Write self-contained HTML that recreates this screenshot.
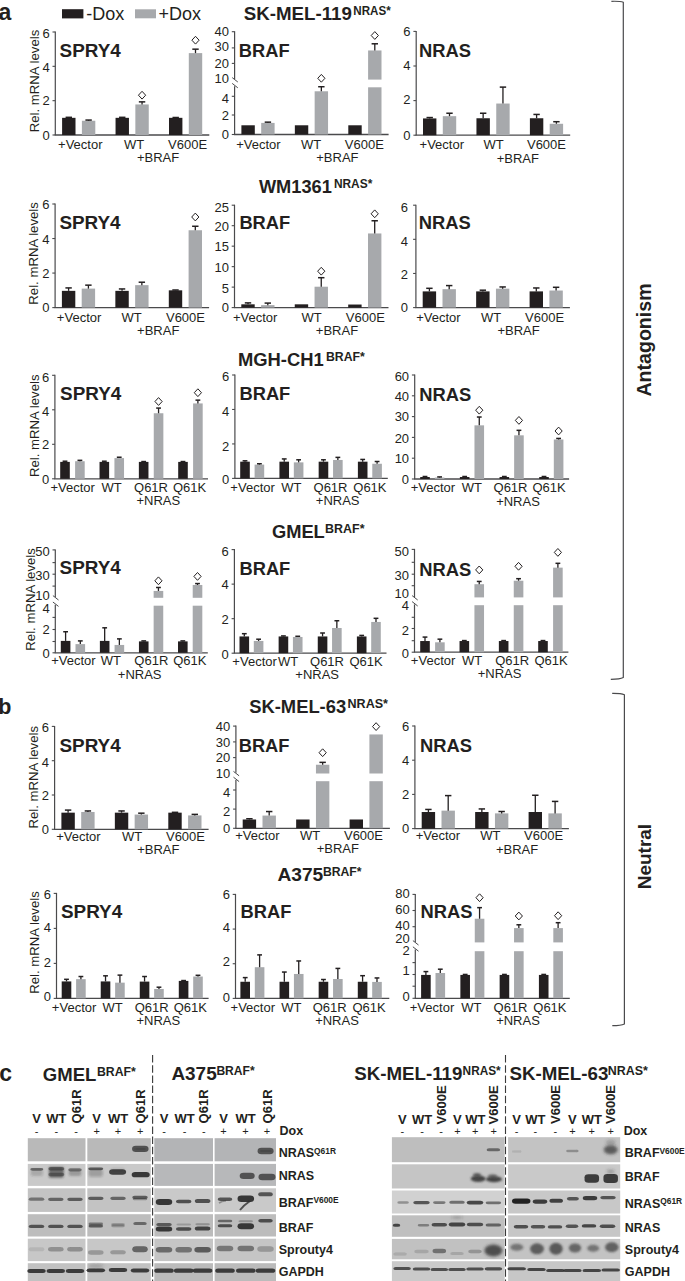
<!DOCTYPE html><html><head><meta charset="utf-8"><style>html,body{margin:0;padding:0;background:#fff;}svg{display:block;}text{font-family:"Liberation Sans",sans-serif;}</style></head><body>
<svg width="685" height="1281" viewBox="0 0 685 1281">
<defs><filter id="bl" x="-50%" y="-100%" width="200%" height="300%"><feGaussianBlur stdDeviation="0.75"/></filter><filter id="bl15" x="-50%" y="-100%" width="200%" height="300%"><feGaussianBlur stdDeviation="1.15"/></filter><filter id="bl2" x="-50%" y="-100%" width="200%" height="300%"><feGaussianBlur stdDeviation="1.6"/></filter></defs>
<rect width="685" height="1281" fill="#fff"/>
<text x="-1.40" y="20.00" font-size="23" font-weight="bold" text-anchor="start" fill="#231f20" >a</text>
<text x="-1.80" y="714.00" font-size="21.5" font-weight="bold" text-anchor="start" fill="#231f20" >b</text>
<text x="-0.80" y="1081.30" font-size="23" font-weight="bold" text-anchor="start" fill="#231f20" >c</text>
<rect x="62.00" y="9.20" width="21.40" height="9.20" fill="#231f20"/>
<text x="86.30" y="19.70" font-size="18" font-weight="normal" text-anchor="start" fill="#231f20" >-Dox</text>
<rect x="135.00" y="9.30" width="21.00" height="9.00" fill="#a7a9ac"/>
<text x="158.60" y="19.70" font-size="18" font-weight="normal" text-anchor="start" fill="#231f20" >+Dox</text>
<text x="243.70" y="19.60" font-size="18" font-weight="bold" fill="#231f20" textLength="108.20" lengthAdjust="spacingAndGlyphs">SK-MEL-119</text>
<text x="353.30" y="14.60" font-size="12" font-weight="bold" fill="#231f20" textLength="37.40" lengthAdjust="spacingAndGlyphs">NRAS*</text>
<text x="258.90" y="193.00" font-size="18" font-weight="bold" fill="#231f20" textLength="72.90" lengthAdjust="spacingAndGlyphs">WM1361</text>
<text x="333.90" y="188.00" font-size="12" font-weight="bold" fill="#231f20" textLength="38.40" lengthAdjust="spacingAndGlyphs">NRAS*</text>
<text x="237.90" y="366.20" font-size="18" font-weight="bold" fill="#231f20" textLength="85.80" lengthAdjust="spacingAndGlyphs">MGH-CH1</text>
<text x="325.90" y="361.20" font-size="12" font-weight="bold" fill="#231f20" textLength="38.90" lengthAdjust="spacingAndGlyphs">BRAF*</text>
<text x="271.90" y="537.90" font-size="18" font-weight="bold" fill="#231f20" textLength="52.90" lengthAdjust="spacingAndGlyphs">GMEL</text>
<text x="325.10" y="532.90" font-size="12" font-weight="bold" fill="#231f20" textLength="39.40" lengthAdjust="spacingAndGlyphs">BRAF*</text>
<text x="249.20" y="713.20" font-size="18" font-weight="bold" fill="#231f20" textLength="97.00" lengthAdjust="spacingAndGlyphs">SK-MEL-63</text>
<text x="347.50" y="708.20" font-size="12" font-weight="bold" fill="#231f20" textLength="40.50" lengthAdjust="spacingAndGlyphs">NRAS*</text>
<text x="277.40" y="881.40" font-size="18" font-weight="bold" fill="#231f20" textLength="45.80" lengthAdjust="spacingAndGlyphs">A375</text>
<text x="322.90" y="876.40" font-size="12" font-weight="bold" fill="#231f20" textLength="38.70" lengthAdjust="spacingAndGlyphs">BRAF*</text>
<line x1="55.30" y1="31.50" x2="55.30" y2="135.00" stroke="#4a4a4c" stroke-width="1.2" />
<line x1="54.70" y1="135.00" x2="209.30" y2="135.00" stroke="#4a4a4c" stroke-width="1.3" />
<line x1="52.50" y1="135.00" x2="55.30" y2="135.00" stroke="#4a4a4c" stroke-width="1.1" />
<text x="49.70" y="140.40" font-size="13" font-weight="normal" text-anchor="end" fill="#231f20" >0</text>
<line x1="52.50" y1="100.67" x2="55.30" y2="100.67" stroke="#4a4a4c" stroke-width="1.1" />
<text x="49.70" y="105.35" font-size="13" font-weight="normal" text-anchor="end" fill="#231f20" >2</text>
<line x1="52.50" y1="66.33" x2="55.30" y2="66.33" stroke="#4a4a4c" stroke-width="1.1" />
<text x="49.70" y="71.95" font-size="13" font-weight="normal" text-anchor="end" fill="#231f20" >4</text>
<line x1="52.50" y1="32.00" x2="55.30" y2="32.00" stroke="#4a4a4c" stroke-width="1.1" />
<text x="49.70" y="37.55" font-size="13" font-weight="normal" text-anchor="end" fill="#231f20" >6</text>
<rect x="62.10" y="117.83" width="13.40" height="17.17" fill="#231f20"/>
<line x1="68.80" y1="117.83" x2="68.80" y2="117.32" stroke="#231f20" stroke-width="1.3" />
<line x1="65.60" y1="117.32" x2="72.00" y2="117.32" stroke="#231f20" stroke-width="1.5" />
<rect x="81.90" y="120.75" width="13.40" height="14.25" fill="#a7a9ac"/>
<line x1="88.60" y1="120.75" x2="88.60" y2="120.06" stroke="#231f20" stroke-width="1.3" />
<line x1="85.40" y1="120.06" x2="91.80" y2="120.06" stroke="#231f20" stroke-width="1.5" />
<rect x="115.55" y="117.83" width="13.40" height="17.17" fill="#231f20"/>
<line x1="122.25" y1="117.83" x2="122.25" y2="117.32" stroke="#231f20" stroke-width="1.3" />
<line x1="119.05" y1="117.32" x2="125.45" y2="117.32" stroke="#231f20" stroke-width="1.5" />
<rect x="135.35" y="104.44" width="13.40" height="30.56" fill="#a7a9ac"/>
<line x1="142.05" y1="104.44" x2="142.05" y2="101.87" stroke="#231f20" stroke-width="1.3" />
<line x1="138.85" y1="101.87" x2="145.25" y2="101.87" stroke="#231f20" stroke-width="1.5" />
<path d="M142.05 91.30 L145.65 95.20 L142.05 99.10 L138.45 95.20 Z" fill="none" stroke="#231f20" stroke-width="1"/>
<rect x="169.00" y="117.83" width="13.40" height="17.17" fill="#231f20"/>
<line x1="175.70" y1="117.83" x2="175.70" y2="117.49" stroke="#231f20" stroke-width="1.3" />
<line x1="172.50" y1="117.49" x2="178.90" y2="117.49" stroke="#231f20" stroke-width="1.5" />
<rect x="188.80" y="53.11" width="13.40" height="81.89" fill="#a7a9ac"/>
<line x1="195.50" y1="53.11" x2="195.50" y2="49.17" stroke="#231f20" stroke-width="1.3" />
<line x1="192.30" y1="49.17" x2="198.70" y2="49.17" stroke="#231f20" stroke-width="1.5" />
<path d="M195.50 36.30 L199.10 40.20 L195.50 44.10 L191.90 40.20 Z" fill="none" stroke="#231f20" stroke-width="1"/>
<text x="59.60" y="57.00" font-size="18" font-weight="bold" fill="#231f20" textLength="61.2" lengthAdjust="spacingAndGlyphs">SPRY4</text>
<text x="80.30" y="149.00" font-size="13" font-weight="normal" text-anchor="middle" fill="#231f20" >+Vector</text>
<text x="134.20" y="149.00" font-size="13" font-weight="normal" text-anchor="middle" fill="#231f20" >WT</text>
<text x="187.60" y="149.00" font-size="13" font-weight="normal" text-anchor="middle" fill="#231f20" >V600E</text>
<text x="158.10" y="162.30" font-size="13" font-weight="normal" text-anchor="middle" fill="#231f20" >+BRAF</text>
<text transform="translate(38.80 81.00) rotate(-90)" font-size="13.2" text-anchor="middle" fill="#231f20">Rel. mRNA levels</text>
<line x1="234.60" y1="31.20" x2="234.60" y2="79.00" stroke="#4a4a4c" stroke-width="1.2" />
<line x1="234.60" y1="86.20" x2="234.60" y2="134.50" stroke="#4a4a4c" stroke-width="1.2" />
<line x1="232.20" y1="77.60" x2="237.80" y2="82.00" stroke="#4a4a4c" stroke-width="1.0" />
<line x1="232.20" y1="83.40" x2="237.80" y2="87.80" stroke="#4a4a4c" stroke-width="1.0" />
<line x1="234.00" y1="134.50" x2="388.60" y2="134.50" stroke="#4a4a4c" stroke-width="1.3" />
<line x1="231.80" y1="134.50" x2="234.60" y2="134.50" stroke="#4a4a4c" stroke-width="1.1" />
<text x="229.00" y="139.15" font-size="13" font-weight="normal" text-anchor="end" fill="#231f20" >0</text>
<line x1="231.80" y1="115.00" x2="234.60" y2="115.00" stroke="#4a4a4c" stroke-width="1.1" />
<text x="229.00" y="120.05" font-size="13" font-weight="normal" text-anchor="end" fill="#231f20" >2</text>
<line x1="231.80" y1="96.30" x2="234.60" y2="96.30" stroke="#4a4a4c" stroke-width="1.1" />
<text x="229.00" y="102.55" font-size="13" font-weight="normal" text-anchor="end" fill="#231f20" >4</text>
<text x="229.00" y="83.15" font-size="13" font-weight="normal" text-anchor="end" fill="#231f20" >10</text>
<line x1="231.80" y1="63.40" x2="234.60" y2="63.40" stroke="#4a4a4c" stroke-width="1.1" />
<text x="229.00" y="67.75" font-size="13" font-weight="normal" text-anchor="end" fill="#231f20" >20</text>
<line x1="231.80" y1="47.90" x2="234.60" y2="47.90" stroke="#4a4a4c" stroke-width="1.1" />
<text x="229.00" y="50.95" font-size="13" font-weight="normal" text-anchor="end" fill="#231f20" >30</text>
<line x1="231.80" y1="31.70" x2="234.60" y2="31.70" stroke="#4a4a4c" stroke-width="1.1" />
<text x="229.00" y="35.55" font-size="13" font-weight="normal" text-anchor="end" fill="#231f20" >40</text>
<rect x="241.40" y="125.28" width="13.40" height="9.22" fill="#231f20"/>
<rect x="261.20" y="122.91" width="13.40" height="11.59" fill="#a7a9ac"/>
<line x1="267.90" y1="122.91" x2="267.90" y2="122.15" stroke="#231f20" stroke-width="1.3" />
<line x1="264.70" y1="122.15" x2="271.10" y2="122.15" stroke="#231f20" stroke-width="1.5" />
<rect x="294.85" y="125.28" width="13.40" height="9.22" fill="#231f20"/>
<rect x="314.65" y="91.28" width="13.40" height="43.22" fill="#a7a9ac"/>
<line x1="321.35" y1="91.28" x2="321.35" y2="86.72" stroke="#231f20" stroke-width="1.3" />
<line x1="318.15" y1="86.72" x2="324.55" y2="86.72" stroke="#231f20" stroke-width="1.5" />
<path d="M321.35 74.40 L324.95 78.30 L321.35 82.20 L317.75 78.30 Z" fill="none" stroke="#231f20" stroke-width="1"/>
<rect x="348.30" y="125.28" width="13.40" height="9.22" fill="#231f20"/>
<rect x="368.10" y="50.46" width="13.40" height="29.14" fill="#a7a9ac"/>
<rect x="368.10" y="87.30" width="13.40" height="47.20" fill="#a7a9ac"/>
<line x1="374.80" y1="50.46" x2="374.80" y2="43.79" stroke="#231f20" stroke-width="1.3" />
<line x1="371.60" y1="43.79" x2="378.00" y2="43.79" stroke="#231f20" stroke-width="1.5" />
<path d="M374.80 31.60 L378.40 35.50 L374.80 39.40 L371.20 35.50 Z" fill="none" stroke="#231f20" stroke-width="1"/>
<text x="238.80" y="57.20" font-size="18" font-weight="bold" fill="#231f20" textLength="50.8" lengthAdjust="spacingAndGlyphs">BRAF</text>
<text x="258.40" y="148.50" font-size="13" font-weight="normal" text-anchor="middle" fill="#231f20" >+Vector</text>
<text x="311.00" y="148.50" font-size="13" font-weight="normal" text-anchor="middle" fill="#231f20" >WT</text>
<text x="364.30" y="148.50" font-size="13" font-weight="normal" text-anchor="middle" fill="#231f20" >V600E</text>
<text x="337.40" y="161.80" font-size="13" font-weight="normal" text-anchor="middle" fill="#231f20" >+BRAF</text>
<line x1="416.20" y1="30.90" x2="416.20" y2="135.20" stroke="#4a4a4c" stroke-width="1.2" />
<line x1="415.60" y1="135.20" x2="570.20" y2="135.20" stroke="#4a4a4c" stroke-width="1.3" />
<line x1="413.40" y1="135.20" x2="416.20" y2="135.20" stroke="#4a4a4c" stroke-width="1.1" />
<text x="410.60" y="139.55" font-size="13" font-weight="normal" text-anchor="end" fill="#231f20" >0</text>
<line x1="413.40" y1="100.60" x2="416.20" y2="100.60" stroke="#4a4a4c" stroke-width="1.1" />
<text x="410.60" y="104.25" font-size="13" font-weight="normal" text-anchor="end" fill="#231f20" >2</text>
<line x1="413.40" y1="66.00" x2="416.20" y2="66.00" stroke="#4a4a4c" stroke-width="1.1" />
<text x="410.60" y="69.85" font-size="13" font-weight="normal" text-anchor="end" fill="#231f20" >4</text>
<line x1="413.40" y1="31.40" x2="416.20" y2="31.40" stroke="#4a4a4c" stroke-width="1.1" />
<text x="410.60" y="35.85" font-size="13" font-weight="normal" text-anchor="end" fill="#231f20" >6</text>
<rect x="423.00" y="118.42" width="13.40" height="16.78" fill="#231f20"/>
<line x1="429.70" y1="118.42" x2="429.70" y2="117.55" stroke="#231f20" stroke-width="1.3" />
<line x1="426.50" y1="117.55" x2="432.90" y2="117.55" stroke="#231f20" stroke-width="1.5" />
<rect x="442.80" y="116.17" width="13.40" height="19.03" fill="#a7a9ac"/>
<line x1="449.50" y1="116.17" x2="449.50" y2="113.23" stroke="#231f20" stroke-width="1.3" />
<line x1="446.30" y1="113.23" x2="452.70" y2="113.23" stroke="#231f20" stroke-width="1.5" />
<rect x="476.45" y="118.25" width="13.40" height="16.95" fill="#231f20"/>
<line x1="483.15" y1="118.25" x2="483.15" y2="113.23" stroke="#231f20" stroke-width="1.3" />
<line x1="479.95" y1="113.23" x2="486.35" y2="113.23" stroke="#231f20" stroke-width="1.5" />
<rect x="496.25" y="103.54" width="13.40" height="31.66" fill="#a7a9ac"/>
<line x1="502.95" y1="103.54" x2="502.95" y2="87.11" stroke="#231f20" stroke-width="1.3" />
<line x1="499.75" y1="87.11" x2="506.15" y2="87.11" stroke="#231f20" stroke-width="1.5" />
<rect x="529.90" y="118.25" width="13.40" height="16.95" fill="#231f20"/>
<line x1="536.60" y1="118.25" x2="536.60" y2="114.44" stroke="#231f20" stroke-width="1.3" />
<line x1="533.40" y1="114.44" x2="539.80" y2="114.44" stroke="#231f20" stroke-width="1.5" />
<rect x="549.70" y="123.78" width="13.40" height="11.42" fill="#a7a9ac"/>
<line x1="556.40" y1="123.78" x2="556.40" y2="121.71" stroke="#231f20" stroke-width="1.3" />
<line x1="553.20" y1="121.71" x2="559.60" y2="121.71" stroke="#231f20" stroke-width="1.5" />
<text x="419.00" y="56.70" font-size="18" font-weight="bold" fill="#231f20" textLength="52.0" lengthAdjust="spacingAndGlyphs">NRAS</text>
<text x="441.80" y="149.20" font-size="13" font-weight="normal" text-anchor="middle" fill="#231f20" >+Vector</text>
<text x="493.70" y="149.20" font-size="13" font-weight="normal" text-anchor="middle" fill="#231f20" >WT</text>
<text x="546.50" y="149.20" font-size="13" font-weight="normal" text-anchor="middle" fill="#231f20" >V600E</text>
<text x="517.80" y="162.50" font-size="13" font-weight="normal" text-anchor="middle" fill="#231f20" >+BRAF</text>
<line x1="55.10" y1="203.50" x2="55.10" y2="307.60" stroke="#4a4a4c" stroke-width="1.2" />
<line x1="54.50" y1="307.60" x2="209.10" y2="307.60" stroke="#4a4a4c" stroke-width="1.3" />
<line x1="52.30" y1="307.60" x2="55.10" y2="307.60" stroke="#4a4a4c" stroke-width="1.1" />
<text x="49.50" y="312.25" font-size="13" font-weight="normal" text-anchor="end" fill="#231f20" >0</text>
<line x1="52.30" y1="273.07" x2="55.10" y2="273.07" stroke="#4a4a4c" stroke-width="1.1" />
<text x="49.50" y="278.25" font-size="13" font-weight="normal" text-anchor="end" fill="#231f20" >2</text>
<line x1="52.30" y1="238.53" x2="55.10" y2="238.53" stroke="#4a4a4c" stroke-width="1.1" />
<text x="49.50" y="244.15" font-size="13" font-weight="normal" text-anchor="end" fill="#231f20" >4</text>
<line x1="52.30" y1="204.00" x2="55.10" y2="204.00" stroke="#4a4a4c" stroke-width="1.1" />
<text x="49.50" y="209.25" font-size="13" font-weight="normal" text-anchor="end" fill="#231f20" >6</text>
<rect x="61.90" y="290.85" width="13.40" height="16.75" fill="#231f20"/>
<line x1="68.60" y1="290.85" x2="68.60" y2="287.92" stroke="#231f20" stroke-width="1.3" />
<line x1="65.40" y1="287.92" x2="71.80" y2="287.92" stroke="#231f20" stroke-width="1.5" />
<rect x="81.70" y="288.61" width="13.40" height="18.99" fill="#a7a9ac"/>
<line x1="88.40" y1="288.61" x2="88.40" y2="285.15" stroke="#231f20" stroke-width="1.3" />
<line x1="85.20" y1="285.15" x2="91.60" y2="285.15" stroke="#231f20" stroke-width="1.5" />
<rect x="115.35" y="290.85" width="13.40" height="16.75" fill="#231f20"/>
<line x1="122.05" y1="290.85" x2="122.05" y2="288.95" stroke="#231f20" stroke-width="1.3" />
<line x1="118.85" y1="288.95" x2="125.25" y2="288.95" stroke="#231f20" stroke-width="1.5" />
<rect x="135.15" y="285.15" width="13.40" height="22.45" fill="#a7a9ac"/>
<line x1="141.85" y1="285.15" x2="141.85" y2="282.22" stroke="#231f20" stroke-width="1.3" />
<line x1="138.65" y1="282.22" x2="145.05" y2="282.22" stroke="#231f20" stroke-width="1.5" />
<rect x="168.80" y="290.33" width="13.40" height="17.27" fill="#231f20"/>
<line x1="175.50" y1="290.33" x2="175.50" y2="289.99" stroke="#231f20" stroke-width="1.3" />
<line x1="172.30" y1="289.99" x2="178.70" y2="289.99" stroke="#231f20" stroke-width="1.5" />
<rect x="188.60" y="230.25" width="13.40" height="77.35" fill="#a7a9ac"/>
<line x1="195.30" y1="230.25" x2="195.30" y2="226.27" stroke="#231f20" stroke-width="1.3" />
<line x1="192.10" y1="226.27" x2="198.50" y2="226.27" stroke="#231f20" stroke-width="1.5" />
<path d="M195.30 213.10 L198.90 217.00 L195.30 220.90 L191.70 217.00 Z" fill="none" stroke="#231f20" stroke-width="1"/>
<text x="59.40" y="228.80" font-size="18" font-weight="bold" fill="#231f20" textLength="61.2" lengthAdjust="spacingAndGlyphs">SPRY4</text>
<text x="79.10" y="321.60" font-size="13" font-weight="normal" text-anchor="middle" fill="#231f20" >+Vector</text>
<text x="131.70" y="321.60" font-size="13" font-weight="normal" text-anchor="middle" fill="#231f20" >WT</text>
<text x="185.50" y="321.60" font-size="13" font-weight="normal" text-anchor="middle" fill="#231f20" >V600E</text>
<text x="158.20" y="334.90" font-size="13" font-weight="normal" text-anchor="middle" fill="#231f20" >+BRAF</text>
<text transform="translate(37.60 253.40) rotate(-90)" font-size="13.2" text-anchor="middle" fill="#231f20">Rel. mRNA levels</text>
<line x1="234.50" y1="204.70" x2="234.50" y2="307.60" stroke="#4a4a4c" stroke-width="1.2" />
<line x1="233.90" y1="307.60" x2="388.50" y2="307.60" stroke="#4a4a4c" stroke-width="1.3" />
<line x1="231.70" y1="307.60" x2="234.50" y2="307.60" stroke="#4a4a4c" stroke-width="1.1" />
<text x="228.90" y="311.65" font-size="13" font-weight="normal" text-anchor="end" fill="#231f20" >0</text>
<line x1="231.70" y1="287.12" x2="234.50" y2="287.12" stroke="#4a4a4c" stroke-width="1.1" />
<text x="228.90" y="293.35" font-size="13" font-weight="normal" text-anchor="end" fill="#231f20" >5</text>
<line x1="231.70" y1="266.64" x2="234.50" y2="266.64" stroke="#4a4a4c" stroke-width="1.1" />
<text x="228.90" y="272.45" font-size="13" font-weight="normal" text-anchor="end" fill="#231f20" >10</text>
<line x1="231.70" y1="246.16" x2="234.50" y2="246.16" stroke="#4a4a4c" stroke-width="1.1" />
<text x="228.90" y="251.15" font-size="13" font-weight="normal" text-anchor="end" fill="#231f20" >15</text>
<line x1="231.70" y1="225.68" x2="234.50" y2="225.68" stroke="#4a4a4c" stroke-width="1.1" />
<text x="228.90" y="230.75" font-size="13" font-weight="normal" text-anchor="end" fill="#231f20" >20</text>
<line x1="231.70" y1="205.20" x2="234.50" y2="205.20" stroke="#4a4a4c" stroke-width="1.1" />
<text x="228.90" y="212.15" font-size="13" font-weight="normal" text-anchor="end" fill="#231f20" >25</text>
<rect x="241.30" y="304.32" width="13.40" height="3.28" fill="#231f20"/>
<line x1="248.00" y1="304.32" x2="248.00" y2="302.89" stroke="#231f20" stroke-width="1.3" />
<line x1="244.80" y1="302.89" x2="251.20" y2="302.89" stroke="#231f20" stroke-width="1.5" />
<rect x="261.10" y="305.14" width="13.40" height="2.46" fill="#a7a9ac"/>
<line x1="267.80" y1="305.14" x2="267.80" y2="303.09" stroke="#231f20" stroke-width="1.3" />
<line x1="264.60" y1="303.09" x2="271.00" y2="303.09" stroke="#231f20" stroke-width="1.5" />
<rect x="294.75" y="304.32" width="13.40" height="3.28" fill="#231f20"/>
<rect x="314.55" y="286.71" width="13.40" height="20.89" fill="#a7a9ac"/>
<line x1="321.25" y1="286.71" x2="321.25" y2="277.70" stroke="#231f20" stroke-width="1.3" />
<line x1="318.05" y1="277.70" x2="324.45" y2="277.70" stroke="#231f20" stroke-width="1.5" />
<path d="M321.25 267.30 L324.85 271.20 L321.25 275.10 L317.65 271.20 Z" fill="none" stroke="#231f20" stroke-width="1"/>
<rect x="348.20" y="304.53" width="13.40" height="3.07" fill="#231f20"/>
<rect x="368.00" y="233.46" width="13.40" height="74.14" fill="#a7a9ac"/>
<line x1="374.70" y1="233.46" x2="374.70" y2="220.76" stroke="#231f20" stroke-width="1.3" />
<line x1="371.50" y1="220.76" x2="377.90" y2="220.76" stroke="#231f20" stroke-width="1.5" />
<path d="M374.70 209.90 L378.30 213.80 L374.70 217.70 L371.10 213.80 Z" fill="none" stroke="#231f20" stroke-width="1"/>
<text x="239.40" y="228.80" font-size="18" font-weight="bold" fill="#231f20" textLength="50.8" lengthAdjust="spacingAndGlyphs">BRAF</text>
<text x="255.20" y="321.60" font-size="13" font-weight="normal" text-anchor="middle" fill="#231f20" >+Vector</text>
<text x="311.70" y="321.60" font-size="13" font-weight="normal" text-anchor="middle" fill="#231f20" >WT</text>
<text x="365.30" y="321.60" font-size="13" font-weight="normal" text-anchor="middle" fill="#231f20" >V600E</text>
<text x="337.00" y="334.90" font-size="13" font-weight="normal" text-anchor="middle" fill="#231f20" >+BRAF</text>
<line x1="415.90" y1="204.70" x2="415.90" y2="307.60" stroke="#4a4a4c" stroke-width="1.2" />
<line x1="415.30" y1="307.60" x2="569.90" y2="307.60" stroke="#4a4a4c" stroke-width="1.3" />
<line x1="413.10" y1="307.60" x2="415.90" y2="307.60" stroke="#4a4a4c" stroke-width="1.1" />
<text x="408.10" y="312.05" font-size="13" font-weight="normal" text-anchor="end" fill="#231f20" >0</text>
<line x1="413.10" y1="273.47" x2="415.90" y2="273.47" stroke="#4a4a4c" stroke-width="1.1" />
<text x="408.10" y="279.45" font-size="13" font-weight="normal" text-anchor="end" fill="#231f20" >2</text>
<line x1="413.10" y1="239.33" x2="415.90" y2="239.33" stroke="#4a4a4c" stroke-width="1.1" />
<text x="408.10" y="246.25" font-size="13" font-weight="normal" text-anchor="end" fill="#231f20" >4</text>
<line x1="413.10" y1="205.20" x2="415.90" y2="205.20" stroke="#4a4a4c" stroke-width="1.1" />
<text x="408.10" y="211.65" font-size="13" font-weight="normal" text-anchor="end" fill="#231f20" >6</text>
<rect x="422.70" y="291.39" width="13.40" height="16.21" fill="#231f20"/>
<line x1="429.40" y1="291.39" x2="429.40" y2="288.31" stroke="#231f20" stroke-width="1.3" />
<line x1="426.20" y1="288.31" x2="432.60" y2="288.31" stroke="#231f20" stroke-width="1.5" />
<rect x="442.50" y="289.17" width="13.40" height="18.43" fill="#a7a9ac"/>
<line x1="449.20" y1="289.17" x2="449.20" y2="285.58" stroke="#231f20" stroke-width="1.3" />
<line x1="446.00" y1="285.58" x2="452.40" y2="285.58" stroke="#231f20" stroke-width="1.5" />
<rect x="476.15" y="291.39" width="13.40" height="16.21" fill="#231f20"/>
<line x1="482.85" y1="291.39" x2="482.85" y2="290.19" stroke="#231f20" stroke-width="1.3" />
<line x1="479.65" y1="290.19" x2="486.05" y2="290.19" stroke="#231f20" stroke-width="1.5" />
<rect x="495.95" y="288.66" width="13.40" height="18.94" fill="#a7a9ac"/>
<line x1="502.65" y1="288.66" x2="502.65" y2="286.95" stroke="#231f20" stroke-width="1.3" />
<line x1="499.45" y1="286.95" x2="505.85" y2="286.95" stroke="#231f20" stroke-width="1.5" />
<rect x="529.60" y="291.39" width="13.40" height="16.21" fill="#231f20"/>
<line x1="536.30" y1="291.39" x2="536.30" y2="287.97" stroke="#231f20" stroke-width="1.3" />
<line x1="533.10" y1="287.97" x2="539.50" y2="287.97" stroke="#231f20" stroke-width="1.5" />
<rect x="549.40" y="290.53" width="13.40" height="17.07" fill="#a7a9ac"/>
<line x1="556.10" y1="290.53" x2="556.10" y2="287.29" stroke="#231f20" stroke-width="1.3" />
<line x1="552.90" y1="287.29" x2="559.30" y2="287.29" stroke="#231f20" stroke-width="1.5" />
<text x="418.70" y="228.50" font-size="18" font-weight="bold" fill="#231f20" textLength="52.0" lengthAdjust="spacingAndGlyphs">NRAS</text>
<text x="438.40" y="321.60" font-size="13" font-weight="normal" text-anchor="middle" fill="#231f20" >+Vector</text>
<text x="491.00" y="321.60" font-size="13" font-weight="normal" text-anchor="middle" fill="#231f20" >WT</text>
<text x="544.60" y="321.60" font-size="13" font-weight="normal" text-anchor="middle" fill="#231f20" >V600E</text>
<text x="518.60" y="334.90" font-size="13" font-weight="normal" text-anchor="middle" fill="#231f20" >+BRAF</text>
<line x1="54.90" y1="374.80" x2="54.90" y2="478.80" stroke="#4a4a4c" stroke-width="1.2" />
<line x1="54.30" y1="478.80" x2="208.00" y2="478.80" stroke="#4a4a4c" stroke-width="1.3" />
<line x1="52.10" y1="478.80" x2="54.90" y2="478.80" stroke="#4a4a4c" stroke-width="1.1" />
<text x="49.30" y="483.95" font-size="13" font-weight="normal" text-anchor="end" fill="#231f20" >0</text>
<line x1="52.10" y1="444.30" x2="54.90" y2="444.30" stroke="#4a4a4c" stroke-width="1.1" />
<text x="49.30" y="449.15" font-size="13" font-weight="normal" text-anchor="end" fill="#231f20" >2</text>
<line x1="52.10" y1="409.80" x2="54.90" y2="409.80" stroke="#4a4a4c" stroke-width="1.1" />
<text x="49.30" y="415.65" font-size="13" font-weight="normal" text-anchor="end" fill="#231f20" >4</text>
<line x1="52.10" y1="375.30" x2="54.90" y2="375.30" stroke="#4a4a4c" stroke-width="1.1" />
<text x="49.30" y="381.55" font-size="13" font-weight="normal" text-anchor="end" fill="#231f20" >6</text>
<rect x="60.20" y="461.89" width="9.60" height="16.91" fill="#231f20"/>
<line x1="65.00" y1="461.89" x2="65.00" y2="461.21" stroke="#231f20" stroke-width="1.3" />
<line x1="62.60" y1="461.21" x2="67.40" y2="461.21" stroke="#231f20" stroke-width="1.5" />
<rect x="75.10" y="461.21" width="9.60" height="17.59" fill="#a7a9ac"/>
<line x1="79.90" y1="461.21" x2="79.90" y2="460.34" stroke="#231f20" stroke-width="1.3" />
<line x1="77.50" y1="460.34" x2="82.30" y2="460.34" stroke="#231f20" stroke-width="1.5" />
<rect x="99.53" y="461.89" width="9.60" height="16.91" fill="#231f20"/>
<line x1="104.33" y1="461.89" x2="104.33" y2="461.21" stroke="#231f20" stroke-width="1.3" />
<line x1="101.93" y1="461.21" x2="106.73" y2="461.21" stroke="#231f20" stroke-width="1.5" />
<rect x="114.43" y="458.10" width="9.60" height="20.70" fill="#a7a9ac"/>
<line x1="119.23" y1="458.10" x2="119.23" y2="457.24" stroke="#231f20" stroke-width="1.3" />
<line x1="116.83" y1="457.24" x2="121.63" y2="457.24" stroke="#231f20" stroke-width="1.5" />
<rect x="138.86" y="461.89" width="9.60" height="16.91" fill="#231f20"/>
<line x1="143.66" y1="461.89" x2="143.66" y2="461.55" stroke="#231f20" stroke-width="1.3" />
<line x1="141.26" y1="461.55" x2="146.06" y2="461.55" stroke="#231f20" stroke-width="1.5" />
<rect x="153.76" y="413.25" width="9.60" height="65.55" fill="#a7a9ac"/>
<line x1="158.56" y1="413.25" x2="158.56" y2="408.08" stroke="#231f20" stroke-width="1.3" />
<line x1="156.16" y1="408.08" x2="160.96" y2="408.08" stroke="#231f20" stroke-width="1.5" />
<path d="M158.56 397.60 L162.16 401.50 L158.56 405.40 L154.96 401.50 Z" fill="none" stroke="#231f20" stroke-width="1"/>
<rect x="178.19" y="461.89" width="9.60" height="16.91" fill="#231f20"/>
<line x1="182.99" y1="461.89" x2="182.99" y2="461.55" stroke="#231f20" stroke-width="1.3" />
<line x1="180.59" y1="461.55" x2="185.39" y2="461.55" stroke="#231f20" stroke-width="1.5" />
<rect x="193.09" y="403.42" width="9.60" height="75.38" fill="#a7a9ac"/>
<line x1="197.89" y1="403.42" x2="197.89" y2="400.14" stroke="#231f20" stroke-width="1.3" />
<line x1="195.49" y1="400.14" x2="200.29" y2="400.14" stroke="#231f20" stroke-width="1.5" />
<path d="M197.89 388.80 L201.49 392.70 L197.89 396.60 L194.29 392.70 Z" fill="none" stroke="#231f20" stroke-width="1"/>
<text x="60.10" y="400.40" font-size="18" font-weight="bold" fill="#231f20" textLength="61.2" lengthAdjust="spacingAndGlyphs">SPRY4</text>
<text x="72.70" y="492.10" font-size="13" font-weight="normal" text-anchor="middle" fill="#231f20" >+Vector</text>
<text x="111.60" y="492.10" font-size="13" font-weight="normal" text-anchor="middle" fill="#231f20" >WT</text>
<text x="151.00" y="492.10" font-size="13" font-weight="normal" text-anchor="middle" fill="#231f20" >Q61R</text>
<text x="189.50" y="492.10" font-size="13" font-weight="normal" text-anchor="middle" fill="#231f20" >Q61K</text>
<text x="158.30" y="505.40" font-size="13" font-weight="normal" text-anchor="middle" fill="#231f20" >+NRAS</text>
<text transform="translate(38.70 425.80) rotate(-90)" font-size="13.2" text-anchor="middle" fill="#231f20">Rel. mRNA levels</text>
<line x1="234.90" y1="374.50" x2="234.90" y2="478.40" stroke="#4a4a4c" stroke-width="1.2" />
<line x1="234.30" y1="478.40" x2="387.80" y2="478.40" stroke="#4a4a4c" stroke-width="1.3" />
<line x1="232.10" y1="478.40" x2="234.90" y2="478.40" stroke="#4a4a4c" stroke-width="1.1" />
<text x="229.30" y="483.55" font-size="13" font-weight="normal" text-anchor="end" fill="#231f20" >0</text>
<line x1="232.10" y1="443.93" x2="234.90" y2="443.93" stroke="#4a4a4c" stroke-width="1.1" />
<text x="229.30" y="450.75" font-size="13" font-weight="normal" text-anchor="end" fill="#231f20" >2</text>
<line x1="232.10" y1="409.47" x2="234.90" y2="409.47" stroke="#4a4a4c" stroke-width="1.1" />
<text x="229.30" y="416.45" font-size="13" font-weight="normal" text-anchor="end" fill="#231f20" >4</text>
<line x1="232.10" y1="375.00" x2="234.90" y2="375.00" stroke="#4a4a4c" stroke-width="1.1" />
<text x="229.30" y="381.25" font-size="13" font-weight="normal" text-anchor="end" fill="#231f20" >6</text>
<rect x="240.20" y="461.68" width="9.60" height="16.72" fill="#231f20"/>
<line x1="245.00" y1="461.68" x2="245.00" y2="460.82" stroke="#231f20" stroke-width="1.3" />
<line x1="242.60" y1="460.82" x2="247.40" y2="460.82" stroke="#231f20" stroke-width="1.5" />
<rect x="254.60" y="464.61" width="9.60" height="13.79" fill="#a7a9ac"/>
<line x1="259.40" y1="464.61" x2="259.40" y2="463.75" stroke="#231f20" stroke-width="1.3" />
<line x1="257.00" y1="463.75" x2="261.80" y2="463.75" stroke="#231f20" stroke-width="1.5" />
<rect x="279.43" y="461.68" width="9.60" height="16.72" fill="#231f20"/>
<line x1="284.23" y1="461.68" x2="284.23" y2="458.93" stroke="#231f20" stroke-width="1.3" />
<line x1="281.83" y1="458.93" x2="286.63" y2="458.93" stroke="#231f20" stroke-width="1.5" />
<rect x="293.83" y="462.37" width="9.60" height="16.03" fill="#a7a9ac"/>
<line x1="298.63" y1="462.37" x2="298.63" y2="459.79" stroke="#231f20" stroke-width="1.3" />
<line x1="296.23" y1="459.79" x2="301.03" y2="459.79" stroke="#231f20" stroke-width="1.5" />
<rect x="318.66" y="461.68" width="9.60" height="16.72" fill="#231f20"/>
<line x1="323.46" y1="461.68" x2="323.46" y2="459.79" stroke="#231f20" stroke-width="1.3" />
<line x1="321.06" y1="459.79" x2="325.86" y2="459.79" stroke="#231f20" stroke-width="1.5" />
<rect x="333.06" y="459.96" width="9.60" height="18.44" fill="#a7a9ac"/>
<line x1="337.86" y1="459.96" x2="337.86" y2="457.38" stroke="#231f20" stroke-width="1.3" />
<line x1="335.46" y1="457.38" x2="340.26" y2="457.38" stroke="#231f20" stroke-width="1.5" />
<rect x="357.89" y="461.68" width="9.60" height="16.72" fill="#231f20"/>
<line x1="362.69" y1="461.68" x2="362.69" y2="459.44" stroke="#231f20" stroke-width="1.3" />
<line x1="360.29" y1="459.44" x2="365.09" y2="459.44" stroke="#231f20" stroke-width="1.5" />
<rect x="372.29" y="463.75" width="9.60" height="14.65" fill="#a7a9ac"/>
<line x1="377.09" y1="463.75" x2="377.09" y2="461.51" stroke="#231f20" stroke-width="1.3" />
<line x1="374.69" y1="461.51" x2="379.49" y2="461.51" stroke="#231f20" stroke-width="1.5" />
<text x="239.50" y="399.60" font-size="18" font-weight="bold" fill="#231f20" textLength="50.8" lengthAdjust="spacingAndGlyphs">BRAF</text>
<text x="252.60" y="491.70" font-size="13" font-weight="normal" text-anchor="middle" fill="#231f20" >+Vector</text>
<text x="291.40" y="491.70" font-size="13" font-weight="normal" text-anchor="middle" fill="#231f20" >WT</text>
<text x="330.50" y="491.70" font-size="13" font-weight="normal" text-anchor="middle" fill="#231f20" >Q61R</text>
<text x="369.90" y="491.70" font-size="13" font-weight="normal" text-anchor="middle" fill="#231f20" >Q61K</text>
<text x="337.70" y="505.00" font-size="13" font-weight="normal" text-anchor="middle" fill="#231f20" >+NRAS</text>
<line x1="414.70" y1="374.50" x2="414.70" y2="479.00" stroke="#4a4a4c" stroke-width="1.2" />
<line x1="414.10" y1="479.00" x2="569.10" y2="479.00" stroke="#4a4a4c" stroke-width="1.3" />
<line x1="411.90" y1="479.00" x2="414.70" y2="479.00" stroke="#4a4a4c" stroke-width="1.1" />
<text x="409.10" y="483.75" font-size="13" font-weight="normal" text-anchor="end" fill="#231f20" >0</text>
<line x1="411.90" y1="458.20" x2="414.70" y2="458.20" stroke="#4a4a4c" stroke-width="1.1" />
<text x="409.10" y="462.65" font-size="13" font-weight="normal" text-anchor="end" fill="#231f20" >10</text>
<line x1="411.90" y1="437.40" x2="414.70" y2="437.40" stroke="#4a4a4c" stroke-width="1.1" />
<text x="409.10" y="442.55" font-size="13" font-weight="normal" text-anchor="end" fill="#231f20" >20</text>
<line x1="411.90" y1="416.60" x2="414.70" y2="416.60" stroke="#4a4a4c" stroke-width="1.1" />
<text x="409.10" y="421.45" font-size="13" font-weight="normal" text-anchor="end" fill="#231f20" >30</text>
<line x1="411.90" y1="395.80" x2="414.70" y2="395.80" stroke="#4a4a4c" stroke-width="1.1" />
<text x="409.10" y="401.05" font-size="13" font-weight="normal" text-anchor="end" fill="#231f20" >40</text>
<line x1="411.90" y1="375.00" x2="414.70" y2="375.00" stroke="#4a4a4c" stroke-width="1.1" />
<text x="409.10" y="380.85" font-size="13" font-weight="normal" text-anchor="end" fill="#231f20" >60</text>
<rect x="420.20" y="477.02" width="9.60" height="1.98" fill="#231f20"/>
<line x1="425.00" y1="477.02" x2="425.00" y2="476.50" stroke="#231f20" stroke-width="1.3" />
<line x1="422.60" y1="476.50" x2="427.40" y2="476.50" stroke="#231f20" stroke-width="1.5" />
<rect x="434.80" y="477.54" width="9.60" height="1.46" fill="#a7a9ac"/>
<line x1="439.60" y1="477.54" x2="439.60" y2="476.92" stroke="#231f20" stroke-width="1.3" />
<line x1="437.20" y1="476.92" x2="442.00" y2="476.92" stroke="#231f20" stroke-width="1.5" />
<rect x="459.87" y="477.02" width="9.60" height="1.98" fill="#231f20"/>
<line x1="464.67" y1="477.02" x2="464.67" y2="476.50" stroke="#231f20" stroke-width="1.3" />
<line x1="462.27" y1="476.50" x2="467.07" y2="476.50" stroke="#231f20" stroke-width="1.5" />
<rect x="474.47" y="425.34" width="9.60" height="53.66" fill="#a7a9ac"/>
<line x1="479.27" y1="425.34" x2="479.27" y2="417.02" stroke="#231f20" stroke-width="1.3" />
<line x1="476.87" y1="417.02" x2="481.67" y2="417.02" stroke="#231f20" stroke-width="1.5" />
<path d="M479.27 406.30 L482.87 410.20 L479.27 414.10 L475.67 410.20 Z" fill="none" stroke="#231f20" stroke-width="1"/>
<rect x="499.54" y="477.02" width="9.60" height="1.98" fill="#231f20"/>
<line x1="504.34" y1="477.02" x2="504.34" y2="476.50" stroke="#231f20" stroke-width="1.3" />
<line x1="501.94" y1="476.50" x2="506.74" y2="476.50" stroke="#231f20" stroke-width="1.5" />
<rect x="514.14" y="435.32" width="9.60" height="43.68" fill="#a7a9ac"/>
<line x1="518.94" y1="435.32" x2="518.94" y2="430.33" stroke="#231f20" stroke-width="1.3" />
<line x1="516.54" y1="430.33" x2="521.34" y2="430.33" stroke="#231f20" stroke-width="1.5" />
<path d="M518.94 416.50 L522.54 420.40 L518.94 424.30 L515.34 420.40 Z" fill="none" stroke="#231f20" stroke-width="1"/>
<rect x="539.21" y="477.02" width="9.60" height="1.98" fill="#231f20"/>
<line x1="544.01" y1="477.02" x2="544.01" y2="476.50" stroke="#231f20" stroke-width="1.3" />
<line x1="541.61" y1="476.50" x2="546.41" y2="476.50" stroke="#231f20" stroke-width="1.5" />
<rect x="553.81" y="439.48" width="9.60" height="39.52" fill="#a7a9ac"/>
<line x1="558.61" y1="439.48" x2="558.61" y2="438.44" stroke="#231f20" stroke-width="1.3" />
<line x1="556.21" y1="438.44" x2="561.01" y2="438.44" stroke="#231f20" stroke-width="1.5" />
<path d="M558.61 427.10 L562.21 431.00 L558.61 434.90 L555.01 431.00 Z" fill="none" stroke="#231f20" stroke-width="1"/>
<text x="419.20" y="400.50" font-size="18" font-weight="bold" fill="#231f20" textLength="52.0" lengthAdjust="spacingAndGlyphs">NRAS</text>
<text x="432.90" y="492.30" font-size="13" font-weight="normal" text-anchor="middle" fill="#231f20" >+Vector</text>
<text x="471.80" y="492.30" font-size="13" font-weight="normal" text-anchor="middle" fill="#231f20" >WT</text>
<text x="510.50" y="492.30" font-size="13" font-weight="normal" text-anchor="middle" fill="#231f20" >Q61R</text>
<text x="549.10" y="492.30" font-size="13" font-weight="normal" text-anchor="middle" fill="#231f20" >Q61K</text>
<text x="518.00" y="505.60" font-size="13" font-weight="normal" text-anchor="middle" fill="#231f20" >+NRAS</text>
<line x1="55.30" y1="549.40" x2="55.30" y2="597.00" stroke="#4a4a4c" stroke-width="1.2" />
<line x1="55.30" y1="604.80" x2="55.30" y2="652.80" stroke="#4a4a4c" stroke-width="1.2" />
<line x1="52.90" y1="595.60" x2="58.50" y2="600.00" stroke="#4a4a4c" stroke-width="1.0" />
<line x1="52.90" y1="602.00" x2="58.50" y2="606.40" stroke="#4a4a4c" stroke-width="1.0" />
<line x1="54.70" y1="652.80" x2="207.80" y2="652.80" stroke="#4a4a4c" stroke-width="1.3" />
<line x1="52.50" y1="652.80" x2="55.30" y2="652.80" stroke="#4a4a4c" stroke-width="1.1" />
<text x="49.70" y="657.65" font-size="13" font-weight="normal" text-anchor="end" fill="#231f20" >0</text>
<line x1="52.50" y1="641.50" x2="55.30" y2="641.50" stroke="#4a4a4c" stroke-width="1.1" />
<line x1="52.50" y1="629.50" x2="55.30" y2="629.50" stroke="#4a4a4c" stroke-width="1.1" />
<text x="49.70" y="633.55" font-size="13" font-weight="normal" text-anchor="end" fill="#231f20" >2</text>
<line x1="52.50" y1="617.40" x2="55.30" y2="617.40" stroke="#4a4a4c" stroke-width="1.1" />
<text x="49.70" y="612.85" font-size="13" font-weight="normal" text-anchor="end" fill="#231f20" >4</text>
<text x="49.70" y="600.15" font-size="13" font-weight="normal" text-anchor="end" fill="#231f20" >10</text>
<line x1="52.50" y1="586.10" x2="55.30" y2="586.10" stroke="#4a4a4c" stroke-width="1.1" />
<line x1="52.50" y1="574.20" x2="55.30" y2="574.20" stroke="#4a4a4c" stroke-width="1.1" />
<text x="49.70" y="580.05" font-size="13" font-weight="normal" text-anchor="end" fill="#231f20" >30</text>
<line x1="52.50" y1="562.60" x2="55.30" y2="562.60" stroke="#4a4a4c" stroke-width="1.1" />
<line x1="52.50" y1="549.90" x2="55.30" y2="549.90" stroke="#4a4a4c" stroke-width="1.1" />
<text x="49.70" y="555.65" font-size="13" font-weight="normal" text-anchor="end" fill="#231f20" >50</text>
<rect x="60.80" y="640.90" width="9.60" height="11.90" fill="#231f20"/>
<line x1="65.60" y1="640.90" x2="65.60" y2="631.74" stroke="#231f20" stroke-width="1.3" />
<line x1="63.20" y1="631.74" x2="68.00" y2="631.74" stroke="#231f20" stroke-width="1.5" />
<rect x="75.50" y="644.11" width="9.60" height="8.69" fill="#a7a9ac"/>
<line x1="80.30" y1="644.11" x2="80.30" y2="640.90" stroke="#231f20" stroke-width="1.3" />
<line x1="77.90" y1="640.90" x2="82.70" y2="640.90" stroke="#231f20" stroke-width="1.5" />
<rect x="99.87" y="640.90" width="9.60" height="11.90" fill="#231f20"/>
<line x1="104.67" y1="640.90" x2="104.67" y2="627.81" stroke="#231f20" stroke-width="1.3" />
<line x1="102.27" y1="627.81" x2="107.07" y2="627.81" stroke="#231f20" stroke-width="1.5" />
<rect x="114.57" y="644.95" width="9.60" height="7.85" fill="#a7a9ac"/>
<line x1="119.37" y1="644.95" x2="119.37" y2="638.88" stroke="#231f20" stroke-width="1.3" />
<line x1="116.97" y1="638.88" x2="121.77" y2="638.88" stroke="#231f20" stroke-width="1.5" />
<rect x="138.94" y="641.38" width="9.60" height="11.42" fill="#231f20"/>
<line x1="143.74" y1="641.38" x2="143.74" y2="640.90" stroke="#231f20" stroke-width="1.3" />
<line x1="141.34" y1="640.90" x2="146.14" y2="640.90" stroke="#231f20" stroke-width="1.5" />
<rect x="153.64" y="590.94" width="9.60" height="6.86" fill="#a7a9ac"/>
<rect x="153.64" y="605.70" width="9.60" height="47.10" fill="#a7a9ac"/>
<line x1="158.44" y1="590.94" x2="158.44" y2="587.49" stroke="#231f20" stroke-width="1.3" />
<line x1="156.04" y1="587.49" x2="160.84" y2="587.49" stroke="#231f20" stroke-width="1.5" />
<path d="M158.44 576.90 L162.04 580.80 L158.44 584.70 L154.84 580.80 Z" fill="none" stroke="#231f20" stroke-width="1"/>
<rect x="178.01" y="641.38" width="9.60" height="11.42" fill="#231f20"/>
<line x1="182.81" y1="641.38" x2="182.81" y2="640.90" stroke="#231f20" stroke-width="1.3" />
<line x1="180.41" y1="640.90" x2="185.21" y2="640.90" stroke="#231f20" stroke-width="1.5" />
<rect x="192.71" y="584.99" width="9.60" height="12.81" fill="#a7a9ac"/>
<rect x="192.71" y="605.70" width="9.60" height="47.10" fill="#a7a9ac"/>
<line x1="197.51" y1="584.99" x2="197.51" y2="583.56" stroke="#231f20" stroke-width="1.3" />
<line x1="195.11" y1="583.56" x2="199.91" y2="583.56" stroke="#231f20" stroke-width="1.5" />
<path d="M197.51 572.50 L201.11 576.40 L197.51 580.30 L193.91 576.40 Z" fill="none" stroke="#231f20" stroke-width="1"/>
<text x="59.60" y="574.40" font-size="18" font-weight="bold" fill="#231f20" textLength="61.2" lengthAdjust="spacingAndGlyphs">SPRY4</text>
<text x="73.40" y="665.20" font-size="13" font-weight="normal" text-anchor="middle" fill="#231f20" >+Vector</text>
<text x="110.90" y="665.20" font-size="13" font-weight="normal" text-anchor="middle" fill="#231f20" >WT</text>
<text x="151.30" y="665.20" font-size="13" font-weight="normal" text-anchor="middle" fill="#231f20" >Q61R</text>
<text x="189.80" y="665.20" font-size="13" font-weight="normal" text-anchor="middle" fill="#231f20" >Q61K</text>
<text x="139.70" y="678.50" font-size="13" font-weight="normal" text-anchor="middle" fill="#231f20" >+NRAS</text>
<text transform="translate(35.30 599.40) rotate(-90)" font-size="13.2" text-anchor="middle" fill="#231f20">Rel. mRNA levels</text>
<line x1="234.40" y1="549.10" x2="234.40" y2="653.20" stroke="#4a4a4c" stroke-width="1.2" />
<line x1="233.80" y1="653.20" x2="386.50" y2="653.20" stroke="#4a4a4c" stroke-width="1.3" />
<line x1="231.60" y1="653.20" x2="234.40" y2="653.20" stroke="#4a4a4c" stroke-width="1.1" />
<text x="228.80" y="658.55" font-size="13" font-weight="normal" text-anchor="end" fill="#231f20" >0</text>
<line x1="231.60" y1="618.67" x2="234.40" y2="618.67" stroke="#4a4a4c" stroke-width="1.1" />
<text x="228.80" y="623.65" font-size="13" font-weight="normal" text-anchor="end" fill="#231f20" >2</text>
<line x1="231.60" y1="584.13" x2="234.40" y2="584.13" stroke="#4a4a4c" stroke-width="1.1" />
<text x="228.80" y="589.45" font-size="13" font-weight="normal" text-anchor="end" fill="#231f20" >4</text>
<line x1="231.60" y1="549.60" x2="234.40" y2="549.60" stroke="#4a4a4c" stroke-width="1.1" />
<text x="228.80" y="555.85" font-size="13" font-weight="normal" text-anchor="end" fill="#231f20" >6</text>
<rect x="239.50" y="636.45" width="9.60" height="16.75" fill="#231f20"/>
<line x1="244.30" y1="636.45" x2="244.30" y2="633.69" stroke="#231f20" stroke-width="1.3" />
<line x1="241.90" y1="633.69" x2="246.70" y2="633.69" stroke="#231f20" stroke-width="1.5" />
<rect x="253.80" y="640.94" width="9.60" height="12.26" fill="#a7a9ac"/>
<line x1="258.60" y1="640.94" x2="258.60" y2="639.21" stroke="#231f20" stroke-width="1.3" />
<line x1="256.20" y1="639.21" x2="261.00" y2="639.21" stroke="#231f20" stroke-width="1.5" />
<rect x="278.63" y="636.45" width="9.60" height="16.75" fill="#231f20"/>
<line x1="283.43" y1="636.45" x2="283.43" y2="635.93" stroke="#231f20" stroke-width="1.3" />
<line x1="281.03" y1="635.93" x2="285.83" y2="635.93" stroke="#231f20" stroke-width="1.5" />
<rect x="292.93" y="636.97" width="9.60" height="16.23" fill="#a7a9ac"/>
<line x1="297.73" y1="636.97" x2="297.73" y2="636.28" stroke="#231f20" stroke-width="1.3" />
<line x1="295.33" y1="636.28" x2="300.13" y2="636.28" stroke="#231f20" stroke-width="1.5" />
<rect x="317.76" y="636.45" width="9.60" height="16.75" fill="#231f20"/>
<line x1="322.56" y1="636.45" x2="322.56" y2="633.00" stroke="#231f20" stroke-width="1.3" />
<line x1="320.16" y1="633.00" x2="324.96" y2="633.00" stroke="#231f20" stroke-width="1.5" />
<rect x="332.06" y="627.99" width="9.60" height="25.21" fill="#a7a9ac"/>
<line x1="336.86" y1="627.99" x2="336.86" y2="620.74" stroke="#231f20" stroke-width="1.3" />
<line x1="334.46" y1="620.74" x2="339.26" y2="620.74" stroke="#231f20" stroke-width="1.5" />
<rect x="356.89" y="636.45" width="9.60" height="16.75" fill="#231f20"/>
<line x1="361.69" y1="636.45" x2="361.69" y2="635.42" stroke="#231f20" stroke-width="1.3" />
<line x1="359.29" y1="635.42" x2="364.09" y2="635.42" stroke="#231f20" stroke-width="1.5" />
<rect x="371.19" y="621.95" width="9.60" height="31.25" fill="#a7a9ac"/>
<line x1="375.99" y1="621.95" x2="375.99" y2="618.32" stroke="#231f20" stroke-width="1.3" />
<line x1="373.59" y1="618.32" x2="378.39" y2="618.32" stroke="#231f20" stroke-width="1.5" />
<text x="239.50" y="574.60" font-size="18" font-weight="bold" fill="#231f20" textLength="50.8" lengthAdjust="spacingAndGlyphs">BRAF</text>
<text x="254.60" y="665.60" font-size="13" font-weight="normal" text-anchor="middle" fill="#231f20" >+Vector</text>
<text x="288.00" y="665.60" font-size="13" font-weight="normal" text-anchor="middle" fill="#231f20" >WT</text>
<text x="327.00" y="665.60" font-size="13" font-weight="normal" text-anchor="middle" fill="#231f20" >Q61R</text>
<text x="366.10" y="665.60" font-size="13" font-weight="normal" text-anchor="middle" fill="#231f20" >Q61K</text>
<text x="317.20" y="678.90" font-size="13" font-weight="normal" text-anchor="middle" fill="#231f20" >+NRAS</text>
<line x1="414.50" y1="548.90" x2="414.50" y2="597.00" stroke="#4a4a4c" stroke-width="1.2" />
<line x1="414.50" y1="604.40" x2="414.50" y2="652.20" stroke="#4a4a4c" stroke-width="1.2" />
<line x1="412.10" y1="595.60" x2="417.70" y2="600.00" stroke="#4a4a4c" stroke-width="1.0" />
<line x1="412.10" y1="601.60" x2="417.70" y2="606.00" stroke="#4a4a4c" stroke-width="1.0" />
<line x1="413.90" y1="652.20" x2="568.40" y2="652.20" stroke="#4a4a4c" stroke-width="1.3" />
<line x1="411.70" y1="652.20" x2="414.50" y2="652.20" stroke="#4a4a4c" stroke-width="1.1" />
<text x="408.90" y="658.25" font-size="13" font-weight="normal" text-anchor="end" fill="#231f20" >0</text>
<line x1="411.70" y1="640.70" x2="414.50" y2="640.70" stroke="#4a4a4c" stroke-width="1.1" />
<line x1="411.70" y1="628.50" x2="414.50" y2="628.50" stroke="#4a4a4c" stroke-width="1.1" />
<text x="408.90" y="634.85" font-size="13" font-weight="normal" text-anchor="end" fill="#231f20" >2</text>
<line x1="411.70" y1="617.30" x2="414.50" y2="617.30" stroke="#4a4a4c" stroke-width="1.1" />
<text x="408.90" y="610.25" font-size="13" font-weight="normal" text-anchor="end" fill="#231f20" >4</text>
<text x="408.90" y="597.55" font-size="13" font-weight="normal" text-anchor="end" fill="#231f20" >10</text>
<line x1="411.70" y1="585.70" x2="414.50" y2="585.70" stroke="#4a4a4c" stroke-width="1.1" />
<line x1="411.70" y1="574.20" x2="414.50" y2="574.20" stroke="#4a4a4c" stroke-width="1.1" />
<text x="408.90" y="580.25" font-size="13" font-weight="normal" text-anchor="end" fill="#231f20" >30</text>
<line x1="411.70" y1="562.30" x2="414.50" y2="562.30" stroke="#4a4a4c" stroke-width="1.1" />
<line x1="411.70" y1="549.40" x2="414.50" y2="549.40" stroke="#4a4a4c" stroke-width="1.1" />
<text x="408.90" y="555.95" font-size="13" font-weight="normal" text-anchor="end" fill="#231f20" >50</text>
<rect x="420.20" y="641.04" width="9.60" height="11.16" fill="#231f20"/>
<line x1="425.00" y1="641.04" x2="425.00" y2="637.08" stroke="#231f20" stroke-width="1.3" />
<line x1="422.60" y1="637.08" x2="427.40" y2="637.08" stroke="#231f20" stroke-width="1.5" />
<rect x="435.10" y="642.31" width="9.60" height="9.89" fill="#a7a9ac"/>
<line x1="439.90" y1="642.31" x2="439.90" y2="639.17" stroke="#231f20" stroke-width="1.3" />
<line x1="437.50" y1="639.17" x2="442.30" y2="639.17" stroke="#231f20" stroke-width="1.5" />
<rect x="459.53" y="641.04" width="9.60" height="11.16" fill="#231f20"/>
<line x1="464.33" y1="641.04" x2="464.33" y2="640.57" stroke="#231f20" stroke-width="1.3" />
<line x1="461.93" y1="640.57" x2="466.73" y2="640.57" stroke="#231f20" stroke-width="1.5" />
<rect x="474.43" y="584.20" width="9.60" height="13.20" fill="#a7a9ac"/>
<rect x="474.43" y="605.20" width="9.60" height="47.00" fill="#a7a9ac"/>
<line x1="479.23" y1="584.20" x2="479.23" y2="581.44" stroke="#231f20" stroke-width="1.3" />
<line x1="476.83" y1="581.44" x2="481.63" y2="581.44" stroke="#231f20" stroke-width="1.5" />
<path d="M479.23 566.00 L482.83 569.90 L479.23 573.80 L475.63 569.90 Z" fill="none" stroke="#231f20" stroke-width="1"/>
<rect x="498.86" y="641.04" width="9.60" height="11.16" fill="#231f20"/>
<line x1="503.66" y1="641.04" x2="503.66" y2="640.57" stroke="#231f20" stroke-width="1.3" />
<line x1="501.26" y1="640.57" x2="506.06" y2="640.57" stroke="#231f20" stroke-width="1.5" />
<rect x="513.76" y="580.72" width="9.60" height="16.68" fill="#a7a9ac"/>
<rect x="513.76" y="605.20" width="9.60" height="47.00" fill="#a7a9ac"/>
<line x1="518.56" y1="580.72" x2="518.56" y2="578.68" stroke="#231f20" stroke-width="1.3" />
<line x1="516.16" y1="578.68" x2="520.96" y2="578.68" stroke="#231f20" stroke-width="1.5" />
<path d="M518.56 562.40 L522.16 566.30 L518.56 570.20 L514.96 566.30 Z" fill="none" stroke="#231f20" stroke-width="1"/>
<rect x="538.19" y="641.04" width="9.60" height="11.16" fill="#231f20"/>
<line x1="542.99" y1="641.04" x2="542.99" y2="640.57" stroke="#231f20" stroke-width="1.3" />
<line x1="540.59" y1="640.57" x2="545.39" y2="640.57" stroke="#231f20" stroke-width="1.5" />
<rect x="553.09" y="567.64" width="9.60" height="29.76" fill="#a7a9ac"/>
<rect x="553.09" y="605.20" width="9.60" height="47.00" fill="#a7a9ac"/>
<line x1="557.89" y1="567.64" x2="557.89" y2="563.32" stroke="#231f20" stroke-width="1.3" />
<line x1="555.49" y1="563.32" x2="560.29" y2="563.32" stroke="#231f20" stroke-width="1.5" />
<path d="M557.89 548.50 L561.49 552.40 L557.89 556.30 L554.29 552.40 Z" fill="none" stroke="#231f20" stroke-width="1"/>
<text x="419.20" y="575.50" font-size="18" font-weight="bold" fill="#231f20" textLength="52.0" lengthAdjust="spacingAndGlyphs">NRAS</text>
<text x="433.10" y="664.60" font-size="13" font-weight="normal" text-anchor="middle" fill="#231f20" >+Vector</text>
<text x="472.00" y="664.60" font-size="13" font-weight="normal" text-anchor="middle" fill="#231f20" >WT</text>
<text x="512.20" y="664.60" font-size="13" font-weight="normal" text-anchor="middle" fill="#231f20" >Q61R</text>
<text x="551.00" y="664.60" font-size="13" font-weight="normal" text-anchor="middle" fill="#231f20" >Q61K</text>
<text x="499.60" y="677.90" font-size="13" font-weight="normal" text-anchor="middle" fill="#231f20" >+NRAS</text>
<line x1="54.60" y1="725.90" x2="54.60" y2="829.30" stroke="#4a4a4c" stroke-width="1.2" />
<line x1="54.00" y1="829.30" x2="208.60" y2="829.30" stroke="#4a4a4c" stroke-width="1.3" />
<line x1="51.80" y1="829.30" x2="54.60" y2="829.30" stroke="#4a4a4c" stroke-width="1.1" />
<text x="49.00" y="833.55" font-size="13" font-weight="normal" text-anchor="end" fill="#231f20" >0</text>
<line x1="51.80" y1="795.00" x2="54.60" y2="795.00" stroke="#4a4a4c" stroke-width="1.1" />
<text x="49.00" y="800.45" font-size="13" font-weight="normal" text-anchor="end" fill="#231f20" >2</text>
<line x1="51.80" y1="760.70" x2="54.60" y2="760.70" stroke="#4a4a4c" stroke-width="1.1" />
<text x="49.00" y="766.65" font-size="13" font-weight="normal" text-anchor="end" fill="#231f20" >4</text>
<line x1="51.80" y1="726.40" x2="54.60" y2="726.40" stroke="#4a4a4c" stroke-width="1.1" />
<text x="49.00" y="731.75" font-size="13" font-weight="normal" text-anchor="end" fill="#231f20" >6</text>
<rect x="61.40" y="812.66" width="13.40" height="16.64" fill="#231f20"/>
<line x1="68.10" y1="812.66" x2="68.10" y2="810.09" stroke="#231f20" stroke-width="1.3" />
<line x1="64.90" y1="810.09" x2="71.30" y2="810.09" stroke="#231f20" stroke-width="1.5" />
<rect x="81.20" y="811.98" width="13.40" height="17.32" fill="#a7a9ac"/>
<line x1="87.90" y1="811.98" x2="87.90" y2="810.95" stroke="#231f20" stroke-width="1.3" />
<line x1="84.70" y1="810.95" x2="91.10" y2="810.95" stroke="#231f20" stroke-width="1.5" />
<rect x="114.85" y="812.66" width="13.40" height="16.64" fill="#231f20"/>
<line x1="121.55" y1="812.66" x2="121.55" y2="810.95" stroke="#231f20" stroke-width="1.3" />
<line x1="118.35" y1="810.95" x2="124.75" y2="810.95" stroke="#231f20" stroke-width="1.5" />
<rect x="134.65" y="814.55" width="13.40" height="14.75" fill="#a7a9ac"/>
<line x1="141.35" y1="814.55" x2="141.35" y2="813.18" stroke="#231f20" stroke-width="1.3" />
<line x1="138.15" y1="813.18" x2="144.55" y2="813.18" stroke="#231f20" stroke-width="1.5" />
<rect x="168.30" y="812.66" width="13.40" height="16.64" fill="#231f20"/>
<line x1="175.00" y1="812.66" x2="175.00" y2="812.32" stroke="#231f20" stroke-width="1.3" />
<line x1="171.80" y1="812.32" x2="178.20" y2="812.32" stroke="#231f20" stroke-width="1.5" />
<rect x="188.10" y="815.41" width="13.40" height="13.89" fill="#a7a9ac"/>
<line x1="194.80" y1="815.41" x2="194.80" y2="814.38" stroke="#231f20" stroke-width="1.3" />
<line x1="191.60" y1="814.38" x2="198.00" y2="814.38" stroke="#231f20" stroke-width="1.5" />
<text x="59.50" y="752.00" font-size="18" font-weight="bold" fill="#231f20" textLength="61.2" lengthAdjust="spacingAndGlyphs">SPRY4</text>
<text x="78.40" y="841.10" font-size="13" font-weight="normal" text-anchor="middle" fill="#231f20" >+Vector</text>
<text x="132.10" y="841.10" font-size="13" font-weight="normal" text-anchor="middle" fill="#231f20" >WT</text>
<text x="185.50" y="841.10" font-size="13" font-weight="normal" text-anchor="middle" fill="#231f20" >V600E</text>
<text x="158.30" y="854.40" font-size="13" font-weight="normal" text-anchor="middle" fill="#231f20" >+BRAF</text>
<text transform="translate(37.90 777.30) rotate(-90)" font-size="13.2" text-anchor="middle" fill="#231f20">Rel. mRNA levels</text>
<line x1="235.90" y1="725.60" x2="235.90" y2="772.80" stroke="#4a4a4c" stroke-width="1.2" />
<line x1="235.90" y1="780.00" x2="235.90" y2="828.30" stroke="#4a4a4c" stroke-width="1.2" />
<line x1="233.50" y1="771.40" x2="239.10" y2="775.80" stroke="#4a4a4c" stroke-width="1.0" />
<line x1="233.50" y1="777.20" x2="239.10" y2="781.60" stroke="#4a4a4c" stroke-width="1.0" />
<line x1="235.30" y1="828.30" x2="389.90" y2="828.30" stroke="#4a4a4c" stroke-width="1.3" />
<line x1="233.10" y1="828.30" x2="235.90" y2="828.30" stroke="#4a4a4c" stroke-width="1.1" />
<text x="230.30" y="832.75" font-size="13" font-weight="normal" text-anchor="end" fill="#231f20" >0</text>
<line x1="233.10" y1="809.10" x2="235.90" y2="809.10" stroke="#4a4a4c" stroke-width="1.1" />
<text x="230.30" y="815.65" font-size="13" font-weight="normal" text-anchor="end" fill="#231f20" >2</text>
<line x1="233.10" y1="790.00" x2="235.90" y2="790.00" stroke="#4a4a4c" stroke-width="1.1" />
<text x="230.30" y="797.45" font-size="13" font-weight="normal" text-anchor="end" fill="#231f20" >4</text>
<text x="230.30" y="777.95" font-size="13" font-weight="normal" text-anchor="end" fill="#231f20" >10</text>
<line x1="233.10" y1="757.60" x2="235.90" y2="757.60" stroke="#4a4a4c" stroke-width="1.1" />
<text x="230.30" y="761.95" font-size="13" font-weight="normal" text-anchor="end" fill="#231f20" >20</text>
<line x1="233.10" y1="741.90" x2="235.90" y2="741.90" stroke="#4a4a4c" stroke-width="1.1" />
<text x="230.30" y="747.05" font-size="13" font-weight="normal" text-anchor="end" fill="#231f20" >30</text>
<line x1="233.10" y1="726.10" x2="235.90" y2="726.10" stroke="#4a4a4c" stroke-width="1.1" />
<text x="230.30" y="731.45" font-size="13" font-weight="normal" text-anchor="end" fill="#231f20" >40</text>
<rect x="242.70" y="819.49" width="13.40" height="8.81" fill="#231f20"/>
<line x1="249.40" y1="819.49" x2="249.40" y2="818.72" stroke="#231f20" stroke-width="1.3" />
<line x1="246.20" y1="818.72" x2="252.60" y2="818.72" stroke="#231f20" stroke-width="1.5" />
<rect x="262.50" y="815.57" width="13.40" height="12.73" fill="#a7a9ac"/>
<line x1="269.20" y1="815.57" x2="269.20" y2="811.54" stroke="#231f20" stroke-width="1.3" />
<line x1="266.00" y1="811.54" x2="272.40" y2="811.54" stroke="#231f20" stroke-width="1.5" />
<rect x="296.15" y="819.49" width="13.40" height="8.81" fill="#231f20"/>
<rect x="315.95" y="764.73" width="13.40" height="8.77" fill="#a7a9ac"/>
<rect x="315.95" y="781.20" width="13.40" height="47.10" fill="#a7a9ac"/>
<line x1="322.65" y1="764.73" x2="322.65" y2="762.36" stroke="#231f20" stroke-width="1.3" />
<line x1="319.45" y1="762.36" x2="325.85" y2="762.36" stroke="#231f20" stroke-width="1.5" />
<path d="M322.65 748.80 L326.25 752.70 L322.65 756.60 L319.05 752.70 Z" fill="none" stroke="#231f20" stroke-width="1"/>
<rect x="349.60" y="819.49" width="13.40" height="8.81" fill="#231f20"/>
<rect x="369.40" y="734.45" width="13.40" height="39.05" fill="#a7a9ac"/>
<rect x="369.40" y="781.20" width="13.40" height="47.10" fill="#a7a9ac"/>
<path d="M376.10 722.70 L379.70 726.60 L376.10 730.50 L372.50 726.60 Z" fill="none" stroke="#231f20" stroke-width="1"/>
<text x="238.70" y="752.10" font-size="18" font-weight="bold" fill="#231f20" textLength="50.8" lengthAdjust="spacingAndGlyphs">BRAF</text>
<text x="257.40" y="840.10" font-size="13" font-weight="normal" text-anchor="middle" fill="#231f20" >+Vector</text>
<text x="310.20" y="840.10" font-size="13" font-weight="normal" text-anchor="middle" fill="#231f20" >WT</text>
<text x="363.50" y="840.10" font-size="13" font-weight="normal" text-anchor="middle" fill="#231f20" >V600E</text>
<text x="337.80" y="853.40" font-size="13" font-weight="normal" text-anchor="middle" fill="#231f20" >+BRAF</text>
<line x1="414.90" y1="725.50" x2="414.90" y2="828.60" stroke="#4a4a4c" stroke-width="1.2" />
<line x1="414.30" y1="828.60" x2="568.90" y2="828.60" stroke="#4a4a4c" stroke-width="1.3" />
<line x1="412.10" y1="828.60" x2="414.90" y2="828.60" stroke="#4a4a4c" stroke-width="1.1" />
<text x="409.30" y="833.05" font-size="13" font-weight="normal" text-anchor="end" fill="#231f20" >0</text>
<line x1="412.10" y1="794.40" x2="414.90" y2="794.40" stroke="#4a4a4c" stroke-width="1.1" />
<text x="409.30" y="798.85" font-size="13" font-weight="normal" text-anchor="end" fill="#231f20" >2</text>
<line x1="412.10" y1="760.20" x2="414.90" y2="760.20" stroke="#4a4a4c" stroke-width="1.1" />
<text x="409.30" y="765.35" font-size="13" font-weight="normal" text-anchor="end" fill="#231f20" >4</text>
<line x1="412.10" y1="726.00" x2="414.90" y2="726.00" stroke="#4a4a4c" stroke-width="1.1" />
<text x="409.30" y="731.15" font-size="13" font-weight="normal" text-anchor="end" fill="#231f20" >6</text>
<rect x="421.70" y="812.01" width="13.40" height="16.59" fill="#231f20"/>
<line x1="428.40" y1="812.01" x2="428.40" y2="809.45" stroke="#231f20" stroke-width="1.3" />
<line x1="425.20" y1="809.45" x2="431.60" y2="809.45" stroke="#231f20" stroke-width="1.5" />
<rect x="441.50" y="810.64" width="13.40" height="17.96" fill="#a7a9ac"/>
<line x1="448.20" y1="810.64" x2="448.20" y2="795.60" stroke="#231f20" stroke-width="1.3" />
<line x1="445.00" y1="795.60" x2="451.40" y2="795.60" stroke="#231f20" stroke-width="1.5" />
<rect x="475.15" y="812.01" width="13.40" height="16.59" fill="#231f20"/>
<line x1="481.85" y1="812.01" x2="481.85" y2="808.94" stroke="#231f20" stroke-width="1.3" />
<line x1="478.65" y1="808.94" x2="485.05" y2="808.94" stroke="#231f20" stroke-width="1.5" />
<rect x="494.95" y="813.38" width="13.40" height="15.22" fill="#a7a9ac"/>
<line x1="501.65" y1="813.38" x2="501.65" y2="811.50" stroke="#231f20" stroke-width="1.3" />
<line x1="498.45" y1="811.50" x2="504.85" y2="811.50" stroke="#231f20" stroke-width="1.5" />
<rect x="528.60" y="812.01" width="13.40" height="16.59" fill="#231f20"/>
<line x1="535.30" y1="812.01" x2="535.30" y2="795.25" stroke="#231f20" stroke-width="1.3" />
<line x1="532.10" y1="795.25" x2="538.50" y2="795.25" stroke="#231f20" stroke-width="1.5" />
<rect x="548.40" y="813.38" width="13.40" height="15.22" fill="#a7a9ac"/>
<line x1="555.10" y1="813.38" x2="555.10" y2="801.41" stroke="#231f20" stroke-width="1.3" />
<line x1="551.90" y1="801.41" x2="558.30" y2="801.41" stroke="#231f20" stroke-width="1.5" />
<text x="420.00" y="752.10" font-size="18" font-weight="bold" fill="#231f20" textLength="52.0" lengthAdjust="spacingAndGlyphs">NRAS</text>
<text x="437.90" y="840.40" font-size="13" font-weight="normal" text-anchor="middle" fill="#231f20" >+Vector</text>
<text x="490.40" y="840.40" font-size="13" font-weight="normal" text-anchor="middle" fill="#231f20" >WT</text>
<text x="543.60" y="840.40" font-size="13" font-weight="normal" text-anchor="middle" fill="#231f20" >V600E</text>
<text x="517.10" y="853.70" font-size="13" font-weight="normal" text-anchor="middle" fill="#231f20" >+BRAF</text>
<line x1="56.50" y1="892.90" x2="56.50" y2="998.40" stroke="#4a4a4c" stroke-width="1.2" />
<line x1="55.90" y1="998.40" x2="208.60" y2="998.40" stroke="#4a4a4c" stroke-width="1.3" />
<line x1="53.70" y1="998.40" x2="56.50" y2="998.40" stroke="#4a4a4c" stroke-width="1.1" />
<text x="50.90" y="1001.45" font-size="13" font-weight="normal" text-anchor="end" fill="#231f20" >0</text>
<line x1="53.70" y1="963.40" x2="56.50" y2="963.40" stroke="#4a4a4c" stroke-width="1.1" />
<text x="50.90" y="967.05" font-size="13" font-weight="normal" text-anchor="end" fill="#231f20" >2</text>
<line x1="53.70" y1="928.40" x2="56.50" y2="928.40" stroke="#4a4a4c" stroke-width="1.1" />
<text x="50.90" y="931.85" font-size="13" font-weight="normal" text-anchor="end" fill="#231f20" >4</text>
<line x1="53.70" y1="893.40" x2="56.50" y2="893.40" stroke="#4a4a4c" stroke-width="1.1" />
<text x="50.90" y="899.25" font-size="13" font-weight="normal" text-anchor="end" fill="#231f20" >6</text>
<rect x="61.70" y="981.42" width="9.60" height="16.98" fill="#231f20"/>
<line x1="66.50" y1="981.42" x2="66.50" y2="979.32" stroke="#231f20" stroke-width="1.3" />
<line x1="64.10" y1="979.32" x2="68.90" y2="979.32" stroke="#231f20" stroke-width="1.5" />
<rect x="76.10" y="979.15" width="9.60" height="19.25" fill="#a7a9ac"/>
<line x1="80.90" y1="979.15" x2="80.90" y2="976.52" stroke="#231f20" stroke-width="1.3" />
<line x1="78.50" y1="976.52" x2="83.30" y2="976.52" stroke="#231f20" stroke-width="1.5" />
<rect x="100.73" y="981.42" width="9.60" height="16.98" fill="#231f20"/>
<line x1="105.53" y1="981.42" x2="105.53" y2="975.82" stroke="#231f20" stroke-width="1.3" />
<line x1="103.13" y1="975.82" x2="107.93" y2="975.82" stroke="#231f20" stroke-width="1.5" />
<rect x="115.13" y="982.65" width="9.60" height="15.75" fill="#a7a9ac"/>
<line x1="119.93" y1="982.65" x2="119.93" y2="975.12" stroke="#231f20" stroke-width="1.3" />
<line x1="117.53" y1="975.12" x2="122.33" y2="975.12" stroke="#231f20" stroke-width="1.5" />
<rect x="139.76" y="981.60" width="9.60" height="16.80" fill="#231f20"/>
<line x1="144.56" y1="981.60" x2="144.56" y2="976.52" stroke="#231f20" stroke-width="1.3" />
<line x1="142.16" y1="976.52" x2="146.96" y2="976.52" stroke="#231f20" stroke-width="1.5" />
<rect x="154.16" y="988.95" width="9.60" height="9.45" fill="#a7a9ac"/>
<line x1="158.96" y1="988.95" x2="158.96" y2="987.20" stroke="#231f20" stroke-width="1.3" />
<line x1="156.56" y1="987.20" x2="161.36" y2="987.20" stroke="#231f20" stroke-width="1.5" />
<rect x="178.79" y="980.90" width="9.60" height="17.50" fill="#231f20"/>
<line x1="183.59" y1="980.90" x2="183.59" y2="980.55" stroke="#231f20" stroke-width="1.3" />
<line x1="181.19" y1="980.55" x2="185.99" y2="980.55" stroke="#231f20" stroke-width="1.5" />
<rect x="193.19" y="976.52" width="9.60" height="21.88" fill="#a7a9ac"/>
<line x1="197.99" y1="976.52" x2="197.99" y2="975.30" stroke="#231f20" stroke-width="1.3" />
<line x1="195.59" y1="975.30" x2="200.39" y2="975.30" stroke="#231f20" stroke-width="1.5" />
<text x="61.00" y="918.20" font-size="18" font-weight="bold" fill="#231f20" textLength="61.2" lengthAdjust="spacingAndGlyphs">SPRY4</text>
<text x="74.10" y="1011.60" font-size="13" font-weight="normal" text-anchor="middle" fill="#231f20" >+Vector</text>
<text x="112.50" y="1011.60" font-size="13" font-weight="normal" text-anchor="middle" fill="#231f20" >WT</text>
<text x="151.70" y="1011.60" font-size="13" font-weight="normal" text-anchor="middle" fill="#231f20" >Q61R</text>
<text x="190.30" y="1011.60" font-size="13" font-weight="normal" text-anchor="middle" fill="#231f20" >Q61K</text>
<text x="158.30" y="1024.90" font-size="13" font-weight="normal" text-anchor="middle" fill="#231f20" >+NRAS</text>
<text transform="translate(39.10 942.50) rotate(-90)" font-size="13.2" text-anchor="middle" fill="#231f20">Rel. mRNA levels</text>
<line x1="235.50" y1="893.90" x2="235.50" y2="998.40" stroke="#4a4a4c" stroke-width="1.2" />
<line x1="234.90" y1="998.40" x2="389.30" y2="998.40" stroke="#4a4a4c" stroke-width="1.3" />
<line x1="232.70" y1="998.40" x2="235.50" y2="998.40" stroke="#4a4a4c" stroke-width="1.1" />
<text x="229.90" y="1001.65" font-size="13" font-weight="normal" text-anchor="end" fill="#231f20" >0</text>
<line x1="232.70" y1="963.73" x2="235.50" y2="963.73" stroke="#4a4a4c" stroke-width="1.1" />
<text x="229.90" y="966.15" font-size="13" font-weight="normal" text-anchor="end" fill="#231f20" >2</text>
<line x1="232.70" y1="929.07" x2="235.50" y2="929.07" stroke="#4a4a4c" stroke-width="1.1" />
<text x="229.90" y="931.85" font-size="13" font-weight="normal" text-anchor="end" fill="#231f20" >4</text>
<line x1="232.70" y1="894.40" x2="235.50" y2="894.40" stroke="#4a4a4c" stroke-width="1.1" />
<text x="229.90" y="898.85" font-size="13" font-weight="normal" text-anchor="end" fill="#231f20" >6</text>
<rect x="240.40" y="981.76" width="9.60" height="16.64" fill="#231f20"/>
<line x1="245.20" y1="981.76" x2="245.20" y2="977.60" stroke="#231f20" stroke-width="1.3" />
<line x1="242.80" y1="977.60" x2="247.60" y2="977.60" stroke="#231f20" stroke-width="1.5" />
<rect x="254.80" y="967.20" width="9.60" height="31.20" fill="#a7a9ac"/>
<line x1="259.60" y1="967.20" x2="259.60" y2="954.89" stroke="#231f20" stroke-width="1.3" />
<line x1="257.20" y1="954.89" x2="262.00" y2="954.89" stroke="#231f20" stroke-width="1.5" />
<rect x="279.53" y="981.76" width="9.60" height="16.64" fill="#231f20"/>
<line x1="284.33" y1="981.76" x2="284.33" y2="972.05" stroke="#231f20" stroke-width="1.3" />
<line x1="281.93" y1="972.05" x2="286.73" y2="972.05" stroke="#231f20" stroke-width="1.5" />
<rect x="293.93" y="973.96" width="9.60" height="24.44" fill="#a7a9ac"/>
<line x1="298.73" y1="973.96" x2="298.73" y2="960.96" stroke="#231f20" stroke-width="1.3" />
<line x1="296.33" y1="960.96" x2="301.13" y2="960.96" stroke="#231f20" stroke-width="1.5" />
<rect x="318.66" y="981.76" width="9.60" height="16.64" fill="#231f20"/>
<line x1="323.46" y1="981.76" x2="323.46" y2="979.51" stroke="#231f20" stroke-width="1.3" />
<line x1="321.06" y1="979.51" x2="325.86" y2="979.51" stroke="#231f20" stroke-width="1.5" />
<rect x="333.06" y="978.99" width="9.60" height="19.41" fill="#a7a9ac"/>
<line x1="337.86" y1="978.99" x2="337.86" y2="968.41" stroke="#231f20" stroke-width="1.3" />
<line x1="335.46" y1="968.41" x2="340.26" y2="968.41" stroke="#231f20" stroke-width="1.5" />
<rect x="357.79" y="981.76" width="9.60" height="16.64" fill="#231f20"/>
<line x1="362.59" y1="981.76" x2="362.59" y2="975.69" stroke="#231f20" stroke-width="1.3" />
<line x1="360.19" y1="975.69" x2="364.99" y2="975.69" stroke="#231f20" stroke-width="1.5" />
<rect x="372.19" y="981.93" width="9.60" height="16.47" fill="#a7a9ac"/>
<line x1="376.99" y1="981.93" x2="376.99" y2="977.95" stroke="#231f20" stroke-width="1.3" />
<line x1="374.59" y1="977.95" x2="379.39" y2="977.95" stroke="#231f20" stroke-width="1.5" />
<text x="240.60" y="918.00" font-size="18" font-weight="bold" fill="#231f20" textLength="50.8" lengthAdjust="spacingAndGlyphs">BRAF</text>
<text x="252.80" y="1011.60" font-size="13" font-weight="normal" text-anchor="middle" fill="#231f20" >+Vector</text>
<text x="291.40" y="1011.60" font-size="13" font-weight="normal" text-anchor="middle" fill="#231f20" >WT</text>
<text x="329.70" y="1011.60" font-size="13" font-weight="normal" text-anchor="middle" fill="#231f20" >Q61R</text>
<text x="369.10" y="1011.60" font-size="13" font-weight="normal" text-anchor="middle" fill="#231f20" >Q61K</text>
<text x="337.00" y="1024.90" font-size="13" font-weight="normal" text-anchor="middle" fill="#231f20" >+NRAS</text>
<line x1="415.30" y1="893.90" x2="415.30" y2="942.00" stroke="#4a4a4c" stroke-width="1.2" />
<line x1="415.30" y1="949.60" x2="415.30" y2="998.30" stroke="#4a4a4c" stroke-width="1.2" />
<line x1="412.90" y1="940.60" x2="418.50" y2="945.00" stroke="#4a4a4c" stroke-width="1.0" />
<line x1="412.90" y1="946.80" x2="418.50" y2="951.20" stroke="#4a4a4c" stroke-width="1.0" />
<line x1="414.70" y1="998.30" x2="569.80" y2="998.30" stroke="#4a4a4c" stroke-width="1.3" />
<line x1="412.50" y1="998.30" x2="415.30" y2="998.30" stroke="#4a4a4c" stroke-width="1.1" />
<text x="409.70" y="1001.35" font-size="13" font-weight="normal" text-anchor="end" fill="#231f20" >0</text>
<line x1="412.50" y1="986.20" x2="415.30" y2="986.20" stroke="#4a4a4c" stroke-width="1.1" />
<line x1="412.50" y1="974.50" x2="415.30" y2="974.50" stroke="#4a4a4c" stroke-width="1.1" />
<text x="409.70" y="975.35" font-size="13" font-weight="normal" text-anchor="end" fill="#231f20" >1</text>
<line x1="412.50" y1="962.60" x2="415.30" y2="962.60" stroke="#4a4a4c" stroke-width="1.1" />
<text x="409.70" y="955.25" font-size="13" font-weight="normal" text-anchor="end" fill="#231f20" >2</text>
<text x="409.70" y="943.05" font-size="13" font-weight="normal" text-anchor="end" fill="#231f20" >20</text>
<line x1="412.50" y1="926.70" x2="415.30" y2="926.70" stroke="#4a4a4c" stroke-width="1.1" />
<text x="409.70" y="929.95" font-size="13" font-weight="normal" text-anchor="end" fill="#231f20" >40</text>
<line x1="412.50" y1="910.50" x2="415.30" y2="910.50" stroke="#4a4a4c" stroke-width="1.1" />
<text x="409.70" y="913.95" font-size="13" font-weight="normal" text-anchor="end" fill="#231f20" >60</text>
<line x1="412.50" y1="894.40" x2="415.30" y2="894.40" stroke="#4a4a4c" stroke-width="1.1" />
<text x="409.70" y="898.35" font-size="13" font-weight="normal" text-anchor="end" fill="#231f20" >80</text>
<rect x="421.10" y="974.93" width="9.60" height="23.37" fill="#231f20"/>
<line x1="425.90" y1="974.93" x2="425.90" y2="971.59" stroke="#231f20" stroke-width="1.3" />
<line x1="423.50" y1="971.59" x2="428.30" y2="971.59" stroke="#231f20" stroke-width="1.5" />
<rect x="435.50" y="973.02" width="9.60" height="25.28" fill="#a7a9ac"/>
<line x1="440.30" y1="973.02" x2="440.30" y2="969.20" stroke="#231f20" stroke-width="1.3" />
<line x1="437.90" y1="969.20" x2="442.70" y2="969.20" stroke="#231f20" stroke-width="1.5" />
<rect x="460.37" y="974.93" width="9.60" height="23.37" fill="#231f20"/>
<line x1="465.17" y1="974.93" x2="465.17" y2="974.45" stroke="#231f20" stroke-width="1.3" />
<line x1="462.77" y1="974.45" x2="467.57" y2="974.45" stroke="#231f20" stroke-width="1.5" />
<rect x="474.77" y="918.73" width="9.60" height="23.67" fill="#a7a9ac"/>
<rect x="474.77" y="951.20" width="9.60" height="47.10" fill="#a7a9ac"/>
<line x1="479.57" y1="918.73" x2="479.57" y2="907.65" stroke="#231f20" stroke-width="1.3" />
<line x1="477.17" y1="907.65" x2="481.97" y2="907.65" stroke="#231f20" stroke-width="1.5" />
<path d="M479.57 893.80 L483.17 897.70 L479.57 901.60 L475.97 897.70 Z" fill="none" stroke="#231f20" stroke-width="1"/>
<rect x="499.64" y="974.93" width="9.60" height="23.37" fill="#231f20"/>
<line x1="504.44" y1="974.93" x2="504.44" y2="974.45" stroke="#231f20" stroke-width="1.3" />
<line x1="502.04" y1="974.45" x2="506.84" y2="974.45" stroke="#231f20" stroke-width="1.5" />
<rect x="514.04" y="928.10" width="9.60" height="14.30" fill="#a7a9ac"/>
<rect x="514.04" y="951.20" width="9.60" height="47.10" fill="#a7a9ac"/>
<line x1="518.84" y1="928.10" x2="518.84" y2="924.79" stroke="#231f20" stroke-width="1.3" />
<line x1="516.44" y1="924.79" x2="521.24" y2="924.79" stroke="#231f20" stroke-width="1.5" />
<path d="M518.84 912.10 L522.44 916.00 L518.84 919.90 L515.24 916.00 Z" fill="none" stroke="#231f20" stroke-width="1"/>
<rect x="538.91" y="974.93" width="9.60" height="23.37" fill="#231f20"/>
<line x1="543.71" y1="974.93" x2="543.71" y2="974.45" stroke="#231f20" stroke-width="1.3" />
<line x1="541.31" y1="974.45" x2="546.11" y2="974.45" stroke="#231f20" stroke-width="1.5" />
<rect x="553.31" y="928.10" width="9.60" height="14.30" fill="#a7a9ac"/>
<rect x="553.31" y="951.20" width="9.60" height="47.10" fill="#a7a9ac"/>
<line x1="558.11" y1="928.10" x2="558.11" y2="922.69" stroke="#231f20" stroke-width="1.3" />
<line x1="555.71" y1="922.69" x2="560.51" y2="922.69" stroke="#231f20" stroke-width="1.5" />
<path d="M558.11 911.80 L561.71 915.70 L558.11 919.60 L554.51 915.70 Z" fill="none" stroke="#231f20" stroke-width="1"/>
<text x="420.60" y="918.00" font-size="18" font-weight="bold" fill="#231f20" textLength="52.0" lengthAdjust="spacingAndGlyphs">NRAS</text>
<text x="432.00" y="1011.50" font-size="13" font-weight="normal" text-anchor="middle" fill="#231f20" >+Vector</text>
<text x="471.40" y="1011.50" font-size="13" font-weight="normal" text-anchor="middle" fill="#231f20" >WT</text>
<text x="510.50" y="1011.50" font-size="13" font-weight="normal" text-anchor="middle" fill="#231f20" >Q61R</text>
<text x="549.90" y="1011.50" font-size="13" font-weight="normal" text-anchor="middle" fill="#231f20" >Q61K</text>
<text x="518.00" y="1024.80" font-size="13" font-weight="normal" text-anchor="middle" fill="#231f20" >+NRAS</text>
<path d="M611.4 1.3 Q620 1.0 623.3 2.3 L623.3 677.5 Q620 679.3 610.8 679.3" fill="none" stroke="#4a4a4c" stroke-width="1.2"/>
<path d="M612.2 693.4 Q621 693.3 624.4 694.8 L624.4 1024.0 Q621 1025.7 612.3 1025.7" fill="none" stroke="#4a4a4c" stroke-width="1.2"/>
<text transform="translate(651.0 340.0) rotate(-90)" font-size="19.6" font-weight="bold" text-anchor="middle" fill="#231f20">Antagonism</text>
<text transform="translate(651.0 856.6) rotate(-90)" font-size="19" font-weight="bold" text-anchor="middle" fill="#231f20">Neutral</text>
<text x="42.80" y="1080.90" font-size="18" font-weight="bold" fill="#231f20" textLength="53.50" lengthAdjust="spacingAndGlyphs">GMEL</text>
<text x="96.90" y="1075.90" font-size="12" font-weight="bold" fill="#231f20" textLength="38.90" lengthAdjust="spacingAndGlyphs">BRAF*</text>
<text x="171.40" y="1080.00" font-size="18" font-weight="bold" fill="#231f20" textLength="45.30" lengthAdjust="spacingAndGlyphs">A375</text>
<text x="216.40" y="1075.00" font-size="12" font-weight="bold" fill="#231f20" textLength="38.30" lengthAdjust="spacingAndGlyphs">BRAF*</text>
<text x="354.20" y="1079.90" font-size="18" font-weight="bold" fill="#231f20" textLength="108.20" lengthAdjust="spacingAndGlyphs">SK-MEL-119</text>
<text x="462.60" y="1074.90" font-size="12" font-weight="bold" fill="#231f20" textLength="38.10" lengthAdjust="spacingAndGlyphs">NRAS*</text>
<text x="509.50" y="1079.90" font-size="18" font-weight="bold" fill="#231f20" textLength="98.90" lengthAdjust="spacingAndGlyphs">SK-MEL-63</text>
<text x="607.80" y="1074.90" font-size="12" font-weight="bold" fill="#231f20" textLength="40.10" lengthAdjust="spacingAndGlyphs">NRAS*</text>
<text x="36.50" y="1123.40" font-size="13" font-weight="bold" text-anchor="middle" fill="#231f20" >V</text>
<text x="36.50" y="1135.20" font-size="11" font-weight="normal" text-anchor="middle" fill="#231f20" >-</text>
<text x="56.30" y="1123.40" font-size="13" font-weight="bold" text-anchor="middle" fill="#231f20" >WT</text>
<text x="56.30" y="1135.20" font-size="11" font-weight="normal" text-anchor="middle" fill="#231f20" >-</text>
<text transform="translate(80.60 1123.40) rotate(-90)" font-size="13" font-weight="bold" fill="#231f20">Q61R</text>
<text x="76.00" y="1135.20" font-size="11" font-weight="normal" text-anchor="middle" fill="#231f20" >-</text>
<text x="96.60" y="1123.40" font-size="13" font-weight="bold" text-anchor="middle" fill="#231f20" >V</text>
<text x="96.60" y="1135.20" font-size="11" font-weight="normal" text-anchor="middle" fill="#231f20" >+</text>
<text x="118.00" y="1123.40" font-size="13" font-weight="bold" text-anchor="middle" fill="#231f20" >WT</text>
<text x="118.00" y="1135.20" font-size="11" font-weight="normal" text-anchor="middle" fill="#231f20" >+</text>
<text transform="translate(144.80 1123.40) rotate(-90)" font-size="13" font-weight="bold" fill="#231f20">Q61R</text>
<text x="140.20" y="1135.20" font-size="11" font-weight="normal" text-anchor="middle" fill="#231f20" >+</text>
<text x="164.00" y="1123.40" font-size="13" font-weight="bold" text-anchor="middle" fill="#231f20" >V</text>
<text x="164.00" y="1135.20" font-size="11" font-weight="normal" text-anchor="middle" fill="#231f20" >-</text>
<text x="184.50" y="1123.40" font-size="13" font-weight="bold" text-anchor="middle" fill="#231f20" >WT</text>
<text x="184.50" y="1135.20" font-size="11" font-weight="normal" text-anchor="middle" fill="#231f20" >-</text>
<text transform="translate(208.40 1123.40) rotate(-90)" font-size="13" font-weight="bold" fill="#231f20">Q61R</text>
<text x="203.80" y="1135.20" font-size="11" font-weight="normal" text-anchor="middle" fill="#231f20" >-</text>
<text x="223.50" y="1123.40" font-size="13" font-weight="bold" text-anchor="middle" fill="#231f20" >V</text>
<text x="223.50" y="1135.20" font-size="11" font-weight="normal" text-anchor="middle" fill="#231f20" >+</text>
<text x="245.50" y="1123.40" font-size="13" font-weight="bold" text-anchor="middle" fill="#231f20" >WT</text>
<text x="245.50" y="1135.20" font-size="11" font-weight="normal" text-anchor="middle" fill="#231f20" >+</text>
<text transform="translate(271.60 1123.40) rotate(-90)" font-size="13" font-weight="bold" fill="#231f20">Q61R</text>
<text x="267.00" y="1135.20" font-size="11" font-weight="normal" text-anchor="middle" fill="#231f20" >+</text>
<text x="402.30" y="1124.40" font-size="13" font-weight="bold" text-anchor="middle" fill="#231f20" >V</text>
<text x="402.30" y="1135.20" font-size="11" font-weight="normal" text-anchor="middle" fill="#231f20" >-</text>
<text x="422.00" y="1124.40" font-size="13" font-weight="bold" text-anchor="middle" fill="#231f20" >WT</text>
<text x="422.00" y="1135.20" font-size="11" font-weight="normal" text-anchor="middle" fill="#231f20" >-</text>
<text transform="translate(445.80 1124.40) rotate(-90)" font-size="13" font-weight="bold" fill="#231f20">V600E</text>
<text x="441.20" y="1135.20" font-size="11" font-weight="normal" text-anchor="middle" fill="#231f20" >-</text>
<text x="457.40" y="1124.40" font-size="13" font-weight="bold" text-anchor="middle" fill="#231f20" >V</text>
<text x="457.40" y="1135.20" font-size="11" font-weight="normal" text-anchor="middle" fill="#231f20" >+</text>
<text x="475.30" y="1124.40" font-size="13" font-weight="bold" text-anchor="middle" fill="#231f20" >WT</text>
<text x="475.30" y="1135.20" font-size="11" font-weight="normal" text-anchor="middle" fill="#231f20" >+</text>
<text transform="translate(498.30 1124.40) rotate(-90)" font-size="13" font-weight="bold" fill="#231f20">V600E</text>
<text x="493.70" y="1135.20" font-size="11" font-weight="normal" text-anchor="middle" fill="#231f20" >+</text>
<text x="516.70" y="1124.00" font-size="13" font-weight="bold" text-anchor="middle" fill="#231f20" >V</text>
<text x="516.70" y="1135.20" font-size="11" font-weight="normal" text-anchor="middle" fill="#231f20" >-</text>
<text x="535.30" y="1124.00" font-size="13" font-weight="bold" text-anchor="middle" fill="#231f20" >WT</text>
<text x="535.30" y="1135.20" font-size="11" font-weight="normal" text-anchor="middle" fill="#231f20" >-</text>
<text transform="translate(560.00 1124.00) rotate(-90)" font-size="13" font-weight="bold" fill="#231f20">V600E</text>
<text x="555.40" y="1135.20" font-size="11" font-weight="normal" text-anchor="middle" fill="#231f20" >-</text>
<text x="572.40" y="1124.00" font-size="13" font-weight="bold" text-anchor="middle" fill="#231f20" >V</text>
<text x="572.40" y="1135.20" font-size="11" font-weight="normal" text-anchor="middle" fill="#231f20" >+</text>
<text x="591.80" y="1124.00" font-size="13" font-weight="bold" text-anchor="middle" fill="#231f20" >WT</text>
<text x="591.80" y="1135.20" font-size="11" font-weight="normal" text-anchor="middle" fill="#231f20" >+</text>
<text transform="translate(615.30 1124.00) rotate(-90)" font-size="13" font-weight="bold" fill="#231f20">V600E</text>
<text x="610.70" y="1135.20" font-size="11" font-weight="normal" text-anchor="middle" fill="#231f20" >+</text>
<text x="279.60" y="1134.90" font-size="12.5" font-weight="bold" text-anchor="start" fill="#231f20" >Dox</text>
<text x="623.70" y="1135.00" font-size="12.5" font-weight="bold" text-anchor="start" fill="#231f20" >Dox</text>
<line x1="152.60" y1="1055.00" x2="152.60" y2="1281.00" stroke="#3a3a3a" stroke-width="1.1" stroke-dasharray="7.5 2.7"/>
<line x1="505.50" y1="1055.00" x2="505.50" y2="1281.00" stroke="#3a3a3a" stroke-width="1.1" stroke-dasharray="7.5 2.7"/>
<rect x="27.80" y="1138.20" width="57.70" height="23.10" fill="#b9b9b9"/>
<rect x="87.30" y="1138.20" width="63.50" height="23.10" fill="#b9b9b9"/>
<rect x="27.80" y="1163.90" width="57.70" height="22.00" fill="#c9c9c9"/>
<rect x="87.30" y="1163.90" width="63.50" height="22.00" fill="#c9c9c9"/>
<rect x="27.80" y="1188.30" width="57.70" height="23.60" fill="#c3c3c3"/>
<rect x="87.30" y="1188.30" width="63.50" height="23.60" fill="#c3c3c3"/>
<rect x="27.80" y="1214.20" width="57.70" height="22.30" fill="#bdbdbd"/>
<rect x="87.30" y="1214.20" width="63.50" height="22.30" fill="#bdbdbd"/>
<rect x="27.80" y="1238.70" width="57.70" height="22.40" fill="#c7c7c7"/>
<rect x="87.30" y="1238.70" width="63.50" height="22.40" fill="#c7c7c7"/>
<rect x="27.80" y="1263.20" width="57.70" height="17.80" fill="#c2c2c2"/>
<rect x="87.30" y="1263.20" width="63.50" height="17.80" fill="#c2c2c2"/>
<rect x="154.30" y="1138.20" width="58.70" height="23.10" fill="#b3b4b6"/>
<rect x="214.60" y="1138.20" width="61.40" height="23.10" fill="#b3b4b6"/>
<rect x="154.30" y="1163.90" width="58.70" height="22.00" fill="#b7b8ba"/>
<rect x="214.60" y="1163.90" width="61.40" height="22.00" fill="#b7b8ba"/>
<rect x="154.30" y="1188.30" width="58.70" height="23.60" fill="#c9c9c9"/>
<rect x="214.60" y="1188.30" width="61.40" height="23.60" fill="#c9c9c9"/>
<rect x="154.30" y="1214.20" width="58.70" height="22.30" fill="#bcbcbc"/>
<rect x="214.60" y="1214.20" width="61.40" height="22.30" fill="#bcbcbc"/>
<rect x="154.30" y="1238.70" width="58.70" height="22.40" fill="#c5c5c5"/>
<rect x="214.60" y="1238.70" width="61.40" height="22.40" fill="#c5c5c5"/>
<rect x="154.30" y="1263.20" width="58.70" height="17.80" fill="#bbbbbb"/>
<rect x="214.60" y="1263.20" width="61.40" height="17.80" fill="#bbbbbb"/>
<rect x="391.90" y="1137.20" width="112.80" height="25.00" fill="#bebebe"/>
<rect x="391.90" y="1164.30" width="112.80" height="24.20" fill="#c5c5c5"/>
<rect x="391.90" y="1190.50" width="112.80" height="23.00" fill="#d1d1d1"/>
<rect x="391.90" y="1215.30" width="112.80" height="21.50" fill="#bfbfbf"/>
<rect x="391.90" y="1238.90" width="112.80" height="20.40" fill="#c1c1c1"/>
<rect x="391.90" y="1261.20" width="112.80" height="19.80" fill="#cacaca"/>
<rect x="508.10" y="1137.20" width="112.10" height="25.00" fill="#c3c3c3"/>
<rect x="508.10" y="1164.30" width="112.10" height="24.20" fill="#c9c9c9"/>
<rect x="508.10" y="1190.50" width="112.10" height="23.00" fill="#c8c8c8"/>
<rect x="508.10" y="1215.30" width="112.10" height="21.50" fill="#c6c6c6"/>
<rect x="508.10" y="1238.90" width="112.10" height="20.40" fill="#c3c3c3"/>
<rect x="508.10" y="1261.20" width="112.10" height="19.80" fill="#c7c7c7"/>
<rect x="132.05" y="1145.70" width="16.50" height="6.40" rx="3.80" ry="3.00" fill="#484848" fill-opacity="0.92" filter="url(#bl)"/>
<rect x="134.55" y="1147.90" width="11.50" height="2.00" rx="1.80" ry="1.00" fill="#3a3a3a" fill-opacity="0.4" filter="url(#bl)"/>
<rect x="30.80" y="1169.00" width="12.00" height="7.00" rx="2" fill="#2e2e2e" fill-opacity="0.22" filter="url(#bl15)"/>
<rect x="30.30" y="1167.90" width="13.00" height="2.80" rx="2.20" ry="1.40" fill="#2e2e2e" fill-opacity="0.6" filter="url(#bl)"/>
<rect x="48.80" y="1166.70" width="15.00" height="11.00" rx="2" fill="#2e2e2e" fill-opacity="0.6" filter="url(#bl15)"/>
<rect x="48.30" y="1167.05" width="16.00" height="3.50" rx="2.55" ry="1.75" fill="#2e2e2e" fill-opacity="0.55" filter="url(#bl)"/>
<rect x="48.30" y="1172.75" width="16.00" height="3.50" rx="2.55" ry="1.75" fill="#2e2e2e" fill-opacity="0.45" filter="url(#bl)"/>
<rect x="68.75" y="1169.00" width="12.50" height="7.00" rx="2" fill="#2e2e2e" fill-opacity="0.3" filter="url(#bl15)"/>
<rect x="68.25" y="1168.20" width="13.50" height="3.20" rx="2.40" ry="1.60" fill="#2e2e2e" fill-opacity="0.5" filter="url(#bl)"/>
<rect x="88.70" y="1168.80" width="14.00" height="8.00" rx="2" fill="#2e2e2e" fill-opacity="0.28" filter="url(#bl15)"/>
<rect x="88.20" y="1167.40" width="15.00" height="2.80" rx="2.20" ry="1.40" fill="#2e2e2e" fill-opacity="0.7" filter="url(#bl)"/>
<rect x="109.10" y="1169.25" width="17.00" height="5.50" rx="3.55" ry="2.75" fill="#2e2e2e" fill-opacity="0.85" filter="url(#bl)"/>
<rect x="110.60" y="1168.50" width="14.00" height="4.00" rx="2" fill="#2e2e2e" fill-opacity="0.2" filter="url(#bl15)"/>
<rect x="131.70" y="1172.10" width="18.00" height="5.20" rx="3.40" ry="2.60" fill="#2e2e2e" fill-opacity="0.92" filter="url(#bl)"/>
<rect x="28.75" y="1197.60" width="15.50" height="3.20" rx="2.40" ry="1.60" fill="#2e2e2e" fill-opacity="0.55" filter="url(#bl)"/>
<rect x="48.05" y="1197.70" width="15.50" height="3.20" rx="2.40" ry="1.60" fill="#2e2e2e" fill-opacity="0.65" filter="url(#bl)"/>
<rect x="67.25" y="1197.70" width="15.50" height="3.20" rx="2.40" ry="1.60" fill="#2e2e2e" fill-opacity="0.7" filter="url(#bl)"/>
<rect x="88.05" y="1196.70" width="15.50" height="3.20" rx="2.40" ry="1.60" fill="#2e2e2e" fill-opacity="0.7" filter="url(#bl)"/>
<rect x="110.25" y="1196.70" width="15.50" height="3.20" rx="2.40" ry="1.60" fill="#2e2e2e" fill-opacity="0.65" filter="url(#bl)"/>
<rect x="132.25" y="1195.70" width="15.50" height="3.20" rx="2.40" ry="1.60" fill="#2e2e2e" fill-opacity="0.7" filter="url(#bl)"/>
<rect x="132.75" y="1197.75" width="14.50" height="2.50" rx="2.05" ry="1.25" fill="#2e2e2e" fill-opacity="0.4" filter="url(#bl)"/>
<rect x="28.75" y="1224.70" width="15.50" height="3.40" rx="2.50" ry="1.70" fill="#2e2e2e" fill-opacity="0.75" filter="url(#bl)"/>
<rect x="48.05" y="1224.70" width="15.50" height="3.40" rx="2.50" ry="1.70" fill="#2e2e2e" fill-opacity="0.75" filter="url(#bl)"/>
<rect x="67.25" y="1224.70" width="15.50" height="3.40" rx="2.50" ry="1.70" fill="#2e2e2e" fill-opacity="0.75" filter="url(#bl)"/>
<rect x="88.55" y="1222.60" width="14.50" height="2.60" rx="2.10" ry="1.30" fill="#2e2e2e" fill-opacity="0.5" filter="url(#bl)"/>
<rect x="88.55" y="1224.50" width="14.50" height="3.00" rx="2.30" ry="1.50" fill="#2e2e2e" fill-opacity="0.7" filter="url(#bl)"/>
<rect x="111.25" y="1223.25" width="13.50" height="2.50" rx="2.05" ry="1.25" fill="#2e2e2e" fill-opacity="0.35" filter="url(#bl)"/>
<rect x="111.25" y="1224.75" width="13.50" height="2.50" rx="2.05" ry="1.25" fill="#2e2e2e" fill-opacity="0.3" filter="url(#bl)"/>
<rect x="133.25" y="1222.10" width="13.50" height="3.00" rx="2.30" ry="1.50" fill="#2e2e2e" fill-opacity="0.6" filter="url(#bl)"/>
<rect x="28.75" y="1247.20" width="15.50" height="4.00" rx="2.80" ry="2.00" fill="#2e2e2e" fill-opacity="0.12" filter="url(#bl)"/>
<rect x="48.05" y="1246.95" width="15.50" height="4.50" rx="3.05" ry="2.25" fill="#2e2e2e" fill-opacity="0.35" filter="url(#bl)"/>
<rect x="67.25" y="1246.95" width="15.50" height="4.50" rx="3.05" ry="2.25" fill="#2e2e2e" fill-opacity="0.38" filter="url(#bl)"/>
<rect x="88.05" y="1250.25" width="15.50" height="4.50" rx="3.05" ry="2.25" fill="#2e2e2e" fill-opacity="0.3" filter="url(#bl)"/>
<rect x="110.25" y="1250.30" width="15.50" height="4.00" rx="2.80" ry="2.00" fill="#2e2e2e" fill-opacity="0.3" filter="url(#bl)"/>
<rect x="132.25" y="1246.20" width="15.50" height="6.00" rx="3.80" ry="3.00" fill="#2e2e2e" fill-opacity="0.65" filter="url(#bl)"/>
<rect x="27.25" y="1269.10" width="18.50" height="3.80" rx="2.70" ry="1.90" fill="#2e2e2e" fill-opacity="0.9" filter="url(#bl)"/>
<rect x="46.55" y="1269.10" width="18.50" height="3.80" rx="2.70" ry="1.90" fill="#2e2e2e" fill-opacity="0.9" filter="url(#bl)"/>
<rect x="65.75" y="1269.10" width="18.50" height="3.80" rx="2.70" ry="1.90" fill="#2e2e2e" fill-opacity="0.9" filter="url(#bl)"/>
<rect x="86.55" y="1268.40" width="18.50" height="3.80" rx="2.70" ry="1.90" fill="#2e2e2e" fill-opacity="0.9" filter="url(#bl)"/>
<rect x="108.75" y="1268.10" width="18.50" height="3.80" rx="2.70" ry="1.90" fill="#2e2e2e" fill-opacity="0.9" filter="url(#bl)"/>
<rect x="130.75" y="1268.60" width="18.50" height="3.80" rx="2.70" ry="1.90" fill="#2e2e2e" fill-opacity="0.9" filter="url(#bl)"/>
<ellipse cx="95.80" cy="1266.00" rx="8.00" ry="2.50" fill="#2e2e2e" fill-opacity="0.2" filter="url(#bl2)"/>
<rect x="257.60" y="1147.80" width="16.00" height="6.40" rx="3.80" ry="3.00" fill="#4a4a4a" fill-opacity="0.92" filter="url(#bl)"/>
<rect x="259.85" y="1150.00" width="11.50" height="2.00" rx="1.80" ry="1.00" fill="#3a3a3a" fill-opacity="0.4" filter="url(#bl)"/>
<rect x="239.70" y="1172.70" width="15.00" height="6.20" rx="3.80" ry="3.00" fill="#4a4a4a" fill-opacity="0.92" filter="url(#bl)"/>
<rect x="258.50" y="1173.70" width="17.00" height="6.60" rx="3.80" ry="3.00" fill="#4a4a4a" fill-opacity="0.92" filter="url(#bl)"/>
<rect x="155.75" y="1199.10" width="16.50" height="6.00" rx="3.80" ry="3.00" fill="#2e2e2e" fill-opacity="0.95" filter="url(#bl)"/>
<rect x="175.95" y="1199.75" width="15.50" height="3.50" rx="2.55" ry="1.75" fill="#2e2e2e" fill-opacity="0.8" filter="url(#bl)"/>
<rect x="194.85" y="1199.00" width="15.50" height="4.00" rx="2.80" ry="2.00" fill="#2e2e2e" fill-opacity="0.8" filter="url(#bl)"/>
<rect x="217.75" y="1197.45" width="14.50" height="3.50" rx="2.55" ry="1.75" fill="#2e2e2e" fill-opacity="0.75" filter="url(#bl)"/>
<path d="M219 1203 Q223 1200.5 226 1201" stroke="#2e2e2e" stroke-opacity="0.4" stroke-width="1.5" fill="none" filter="url(#bl)"/>
<rect x="237.55" y="1195.55" width="16.50" height="6.50" rx="3.80" ry="3.00" fill="#2e2e2e" fill-opacity="0.95" filter="url(#bl)"/>
<path d="M250 1201 Q244 1205 240 1210" stroke="#2e2e2e" stroke-opacity="0.8" stroke-width="2" fill="none" filter="url(#bl)"/>
<rect x="258.25" y="1192.20" width="14.50" height="4.00" rx="2.80" ry="2.00" fill="#2e2e2e" fill-opacity="0.75" filter="url(#bl)"/>
<rect x="156.25" y="1223.00" width="15.50" height="3.00" rx="2.30" ry="1.50" fill="#2e2e2e" fill-opacity="0.7" filter="url(#bl)"/>
<rect x="155.75" y="1226.50" width="16.50" height="5.00" rx="3.30" ry="2.50" fill="#2e2e2e" fill-opacity="0.95" filter="url(#bl)"/>
<rect x="176.45" y="1223.50" width="14.50" height="2.00" rx="1.80" ry="1.00" fill="#2e2e2e" fill-opacity="0.25" filter="url(#bl)"/>
<rect x="175.95" y="1227.25" width="15.50" height="3.50" rx="2.55" ry="1.75" fill="#2e2e2e" fill-opacity="0.8" filter="url(#bl)"/>
<rect x="195.35" y="1223.30" width="14.50" height="2.00" rx="1.80" ry="1.00" fill="#2e2e2e" fill-opacity="0.3" filter="url(#bl)"/>
<rect x="194.85" y="1226.50" width="15.50" height="4.00" rx="2.80" ry="2.00" fill="#2e2e2e" fill-opacity="0.85" filter="url(#bl)"/>
<rect x="217.75" y="1219.75" width="14.50" height="2.50" rx="2.05" ry="1.25" fill="#2e2e2e" fill-opacity="0.6" filter="url(#bl)"/>
<rect x="217.75" y="1224.30" width="14.50" height="3.00" rx="2.30" ry="1.50" fill="#2e2e2e" fill-opacity="0.8" filter="url(#bl)"/>
<rect x="238.55" y="1220.20" width="14.50" height="2.00" rx="1.80" ry="1.00" fill="#2e2e2e" fill-opacity="0.3" filter="url(#bl)"/>
<rect x="237.55" y="1223.20" width="16.50" height="6.00" rx="3.80" ry="3.00" fill="#2e2e2e" fill-opacity="0.95" filter="url(#bl)"/>
<rect x="258.25" y="1218.95" width="14.50" height="3.50" rx="2.55" ry="1.75" fill="#2e2e2e" fill-opacity="0.8" filter="url(#bl)"/>
<rect x="155.75" y="1247.05" width="16.50" height="5.50" rx="3.55" ry="2.75" fill="#2e2e2e" fill-opacity="0.6" filter="url(#bl)"/>
<rect x="175.45" y="1247.05" width="16.50" height="5.50" rx="3.55" ry="2.75" fill="#2e2e2e" fill-opacity="0.55" filter="url(#bl)"/>
<rect x="194.35" y="1247.05" width="16.50" height="5.50" rx="3.55" ry="2.75" fill="#2e2e2e" fill-opacity="0.7" filter="url(#bl)"/>
<rect x="216.75" y="1245.75" width="16.50" height="5.50" rx="3.55" ry="2.75" fill="#2e2e2e" fill-opacity="0.5" filter="url(#bl)"/>
<rect x="237.55" y="1245.75" width="16.50" height="5.50" rx="3.55" ry="2.75" fill="#2e2e2e" fill-opacity="0.55" filter="url(#bl)"/>
<rect x="257.25" y="1246.25" width="16.50" height="5.50" rx="3.55" ry="2.75" fill="#2e2e2e" fill-opacity="0.3" filter="url(#bl)"/>
<rect x="154.25" y="1268.60" width="19.50" height="4.20" rx="2.90" ry="2.10" fill="#2e2e2e" fill-opacity="0.9" filter="url(#bl)"/>
<rect x="173.95" y="1268.60" width="19.50" height="4.20" rx="2.90" ry="2.10" fill="#2e2e2e" fill-opacity="0.9" filter="url(#bl)"/>
<rect x="192.85" y="1268.60" width="19.50" height="4.20" rx="2.90" ry="2.10" fill="#2e2e2e" fill-opacity="0.9" filter="url(#bl)"/>
<rect x="215.25" y="1268.60" width="19.50" height="4.20" rx="2.90" ry="2.10" fill="#2e2e2e" fill-opacity="0.9" filter="url(#bl)"/>
<rect x="236.05" y="1268.60" width="19.50" height="4.20" rx="2.90" ry="2.10" fill="#2e2e2e" fill-opacity="0.9" filter="url(#bl)"/>
<rect x="255.75" y="1268.60" width="19.50" height="4.20" rx="2.90" ry="2.10" fill="#2e2e2e" fill-opacity="0.9" filter="url(#bl)"/>
<rect x="486.65" y="1148.30" width="13.50" height="3.00" rx="2.30" ry="1.50" fill="#2e2e2e" fill-opacity="0.6" filter="url(#bl)"/>
<ellipse cx="478.20" cy="1178.80" rx="7.50" ry="3.25" fill="#383838" fill-opacity="0.9" filter="url(#bl15)"/>
<ellipse cx="477.00" cy="1175.00" rx="4.00" ry="2.00" fill="#404040" fill-opacity="0.75" filter="url(#bl15)"/>
<ellipse cx="494.00" cy="1179.20" rx="8.00" ry="3.00" fill="#383838" fill-opacity="0.9" filter="url(#bl15)"/>
<ellipse cx="492.50" cy="1176.00" rx="4.50" ry="1.80" fill="#404040" fill-opacity="0.65" filter="url(#bl15)"/>
<rect x="397.35" y="1201.35" width="11.50" height="2.50" rx="2.05" ry="1.25" fill="#2e2e2e" fill-opacity="0.4" filter="url(#bl)"/>
<rect x="413.25" y="1201.00" width="16.50" height="3.20" rx="2.40" ry="1.60" fill="#2e2e2e" fill-opacity="0.75" filter="url(#bl)"/>
<rect x="433.05" y="1201.20" width="12.50" height="2.80" rx="2.20" ry="1.40" fill="#2e2e2e" fill-opacity="0.55" filter="url(#bl)"/>
<rect x="449.25" y="1200.80" width="15.50" height="3.00" rx="2.30" ry="1.50" fill="#2e2e2e" fill-opacity="0.6" filter="url(#bl)"/>
<rect x="466.75" y="1200.70" width="16.50" height="3.80" rx="2.70" ry="1.90" fill="#2e2e2e" fill-opacity="0.85" filter="url(#bl)"/>
<rect x="485.65" y="1201.40" width="15.50" height="2.80" rx="2.20" ry="1.40" fill="#2e2e2e" fill-opacity="0.6" filter="url(#bl)"/>
<rect x="392.75" y="1223.80" width="7.50" height="3.00" rx="2.30" ry="1.50" fill="#2e2e2e" fill-opacity="0.85" filter="url(#bl)"/>
<rect x="417.75" y="1224.05" width="11.50" height="2.50" rx="2.05" ry="1.25" fill="#2e2e2e" fill-opacity="0.45" filter="url(#bl)"/>
<rect x="431.55" y="1223.05" width="15.50" height="3.50" rx="2.55" ry="1.75" fill="#2e2e2e" fill-opacity="0.8" filter="url(#bl)"/>
<rect x="448.75" y="1222.60" width="16.50" height="3.80" rx="2.70" ry="1.90" fill="#2e2e2e" fill-opacity="0.85" filter="url(#bl)"/>
<rect x="466.75" y="1222.75" width="16.50" height="3.50" rx="2.55" ry="1.75" fill="#2e2e2e" fill-opacity="0.8" filter="url(#bl)"/>
<rect x="485.65" y="1223.50" width="15.50" height="3.00" rx="2.30" ry="1.50" fill="#2e2e2e" fill-opacity="0.65" filter="url(#bl)"/>
<ellipse cx="457.00" cy="1217.50" rx="6.00" ry="1.50" fill="#2e2e2e" fill-opacity="0.25" filter="url(#bl2)"/>
<rect x="393.35" y="1252.50" width="13.50" height="3.00" rx="2.30" ry="1.50" fill="#2e2e2e" fill-opacity="0.15" filter="url(#bl)"/>
<rect x="414.25" y="1249.75" width="14.50" height="3.50" rx="2.55" ry="1.75" fill="#2e2e2e" fill-opacity="0.18" filter="url(#bl)"/>
<rect x="432.55" y="1248.75" width="13.50" height="4.50" rx="3.05" ry="2.25" fill="#2e2e2e" fill-opacity="0.55" filter="url(#bl)"/>
<rect x="450.25" y="1252.00" width="13.50" height="3.00" rx="2.30" ry="1.50" fill="#2e2e2e" fill-opacity="0.18" filter="url(#bl)"/>
<rect x="468.25" y="1249.75" width="13.50" height="3.50" rx="2.55" ry="1.75" fill="#2e2e2e" fill-opacity="0.3" filter="url(#bl)"/>
<ellipse cx="493.40" cy="1250.60" rx="9.00" ry="6.00" fill="#2e2e2e" fill-opacity="0.8" filter="url(#bl2)"/>
<rect x="393.35" y="1266.90" width="17.50" height="3.20" rx="2.40" ry="1.60" fill="#2e2e2e" fill-opacity="0.8" filter="url(#bl)"/>
<rect x="412.75" y="1267.40" width="17.50" height="3.20" rx="2.40" ry="1.60" fill="#2e2e2e" fill-opacity="0.8" filter="url(#bl)"/>
<rect x="430.55" y="1267.90" width="17.50" height="3.20" rx="2.40" ry="1.60" fill="#2e2e2e" fill-opacity="0.8" filter="url(#bl)"/>
<rect x="448.25" y="1267.90" width="17.50" height="3.20" rx="2.40" ry="1.60" fill="#2e2e2e" fill-opacity="0.8" filter="url(#bl)"/>
<rect x="466.25" y="1267.40" width="17.50" height="3.20" rx="2.40" ry="1.60" fill="#2e2e2e" fill-opacity="0.8" filter="url(#bl)"/>
<rect x="484.65" y="1267.20" width="17.50" height="3.20" rx="2.40" ry="1.60" fill="#2e2e2e" fill-opacity="0.8" filter="url(#bl)"/>
<rect x="511.95" y="1150.35" width="9.50" height="2.50" rx="2.05" ry="1.25" fill="#2e2e2e" fill-opacity="0.12" filter="url(#bl)"/>
<rect x="566.15" y="1149.75" width="12.50" height="2.50" rx="2.05" ry="1.25" fill="#2e2e2e" fill-opacity="0.35" filter="url(#bl)"/>
<ellipse cx="610.70" cy="1149.80" rx="7.00" ry="4.50" fill="#2e2e2e" fill-opacity="0.7" filter="url(#bl2)"/>
<ellipse cx="610.70" cy="1142.50" rx="5.00" ry="3.00" fill="#2e2e2e" fill-opacity="0.25" filter="url(#bl2)"/>
<rect x="584.55" y="1174.35" width="14.50" height="8.50" rx="3.80" ry="3.00" fill="#2e2e2e" fill-opacity="0.9" filter="url(#bl)"/>
<rect x="603.45" y="1174.10" width="14.50" height="9.00" rx="3.80" ry="3.00" fill="#2e2e2e" fill-opacity="0.9" filter="url(#bl)"/>
<ellipse cx="610.70" cy="1171.50" rx="4.00" ry="2.00" fill="#2e2e2e" fill-opacity="0.3" filter="url(#bl2)"/>
<rect x="511.95" y="1198.50" width="18.50" height="5.20" rx="3.40" ry="2.60" fill="#1e1e1e" fill-opacity="0.97" filter="url(#bl)"/>
<rect x="532.75" y="1199.50" width="14.50" height="4.20" rx="2.90" ry="2.10" fill="#2e2e2e" fill-opacity="0.9" filter="url(#bl)"/>
<rect x="549.45" y="1198.80" width="13.50" height="4.00" rx="2.80" ry="2.00" fill="#2e2e2e" fill-opacity="0.88" filter="url(#bl)"/>
<rect x="566.90" y="1197.00" width="12.00" height="3.40" rx="2.50" ry="1.70" fill="#2e2e2e" fill-opacity="0.75" filter="url(#bl)"/>
<rect x="582.75" y="1195.90" width="14.50" height="4.40" rx="3.00" ry="2.20" fill="#2e2e2e" fill-opacity="0.9" filter="url(#bl)"/>
<rect x="600.25" y="1195.90" width="15.50" height="3.40" rx="2.50" ry="1.70" fill="#2e2e2e" fill-opacity="0.75" filter="url(#bl)"/>
<rect x="513.75" y="1225.00" width="14.50" height="3.40" rx="2.50" ry="1.70" fill="#2e2e2e" fill-opacity="0.8" filter="url(#bl)"/>
<rect x="530.75" y="1225.00" width="14.50" height="3.40" rx="2.50" ry="1.70" fill="#2e2e2e" fill-opacity="0.75" filter="url(#bl)"/>
<rect x="547.75" y="1225.20" width="14.50" height="3.40" rx="2.50" ry="1.70" fill="#2e2e2e" fill-opacity="0.78" filter="url(#bl)"/>
<rect x="565.75" y="1224.60" width="12.50" height="3.40" rx="2.50" ry="1.70" fill="#2e2e2e" fill-opacity="0.75" filter="url(#bl)"/>
<rect x="581.75" y="1224.20" width="14.50" height="3.40" rx="2.50" ry="1.70" fill="#2e2e2e" fill-opacity="0.85" filter="url(#bl)"/>
<rect x="599.75" y="1224.60" width="15.50" height="3.40" rx="2.50" ry="1.70" fill="#2e2e2e" fill-opacity="0.8" filter="url(#bl)"/>
<ellipse cx="516.80" cy="1247.20" rx="6.50" ry="3.50" fill="#3a3a3a" fill-opacity="0.5700000000000001" filter="url(#bl15)"/>
<ellipse cx="537.00" cy="1248.80" rx="7.00" ry="5.50" fill="#3a3a3a" fill-opacity="0.74" filter="url(#bl15)"/>
<ellipse cx="556.00" cy="1248.80" rx="6.75" ry="6.00" fill="#3a3a3a" fill-opacity="0.77" filter="url(#bl15)"/>
<ellipse cx="575.00" cy="1248.00" rx="6.25" ry="4.50" fill="#3a3a3a" fill-opacity="0.67" filter="url(#bl15)"/>
<ellipse cx="593.20" cy="1248.30" rx="6.00" ry="3.50" fill="#3a3a3a" fill-opacity="0.5700000000000001" filter="url(#bl15)"/>
<ellipse cx="611.80" cy="1247.30" rx="6.75" ry="5.00" fill="#3a3a3a" fill-opacity="0.72" filter="url(#bl15)"/>
<rect x="507.45" y="1267.30" width="18.50" height="3.00" rx="2.30" ry="1.50" fill="#2e2e2e" fill-opacity="0.85" filter="url(#bl)"/>
<rect x="527.25" y="1268.10" width="18.50" height="3.00" rx="2.30" ry="1.50" fill="#2e2e2e" fill-opacity="0.85" filter="url(#bl)"/>
<rect x="546.15" y="1268.90" width="18.50" height="3.00" rx="2.30" ry="1.50" fill="#2e2e2e" fill-opacity="0.85" filter="url(#bl)"/>
<rect x="563.15" y="1268.90" width="18.50" height="3.00" rx="2.30" ry="1.50" fill="#2e2e2e" fill-opacity="0.85" filter="url(#bl)"/>
<rect x="582.55" y="1268.90" width="18.50" height="3.00" rx="2.30" ry="1.50" fill="#2e2e2e" fill-opacity="0.85" filter="url(#bl)"/>
<rect x="601.45" y="1268.50" width="18.50" height="3.00" rx="2.30" ry="1.50" fill="#2e2e2e" fill-opacity="0.85" filter="url(#bl)"/>
<text x="278.70" y="1156.90" font-size="12.5" font-weight="bold" fill="#231f20">NRAS<tspan font-size="8.4" dy="-3.3">Q61R</tspan></text>
<text x="278.70" y="1180.20" font-size="12.5" font-weight="bold" text-anchor="start" fill="#231f20" >NRAS</text>
<text x="278.70" y="1206.50" font-size="12.5" font-weight="bold" fill="#231f20">BRAF<tspan font-size="8.4" dy="-3.3">V600E</tspan></text>
<text x="278.70" y="1231.60" font-size="12.5" font-weight="bold" text-anchor="start" fill="#231f20" >BRAF</text>
<text x="278.70" y="1254.10" font-size="12.5" font-weight="bold" text-anchor="start" fill="#231f20" >Sprouty4</text>
<text x="278.70" y="1276.00" font-size="12.5" font-weight="bold" text-anchor="start" fill="#231f20" >GAPDH</text>
<text x="624.80" y="1157.00" font-size="12.5" font-weight="bold" fill="#231f20">BRAF<tspan font-size="8.4" dy="-3.3">V600E</tspan></text>
<text x="624.80" y="1181.30" font-size="12.5" font-weight="bold" text-anchor="start" fill="#231f20" >BRAF</text>
<text x="624.80" y="1207.50" font-size="12.5" font-weight="bold" fill="#231f20">NRAS<tspan font-size="8.4" dy="-3.3">Q61R</tspan></text>
<text x="624.80" y="1232.00" font-size="12.5" font-weight="bold" text-anchor="start" fill="#231f20" >NRAS</text>
<text x="624.80" y="1253.70" font-size="12.5" font-weight="bold" text-anchor="start" fill="#231f20" >Sprouty4</text>
<text x="624.80" y="1275.80" font-size="12.5" font-weight="bold" text-anchor="start" fill="#231f20" >GAPDH</text>
</svg></body></html>
